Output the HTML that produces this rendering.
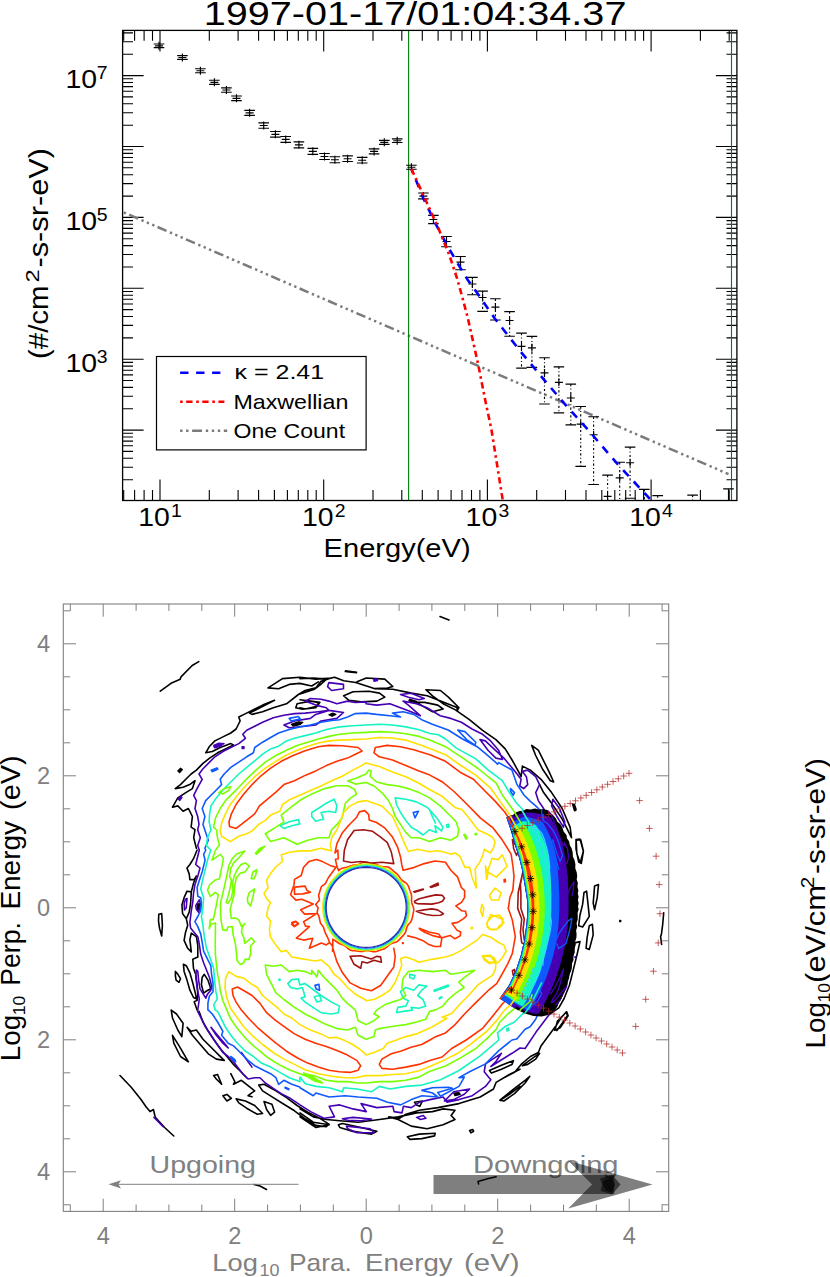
<!DOCTYPE html>
<html><head><meta charset="utf-8"><title>plot</title>
<style>
html,body{margin:0;padding:0;background:#fff;}
svg{display:block;font-family:"Liberation Sans", sans-serif;}
</style></head><body>
<svg width="830" height="1277" viewBox="0 0 830 1277">
<rect width="830" height="1277" fill="#fff"/>
<g id="top">
<path d="M123.7 500.5v-10.4M123.7 30.4v10.4M134.6 500.5v-10.4M134.6 30.4v10.4M144.1 500.5v-10.4M144.1 30.4v10.4M152.5 500.5v-10.4M152.5 30.4v10.4M160 500.5v-21M160 30.4v21M209.3 500.5v-10.4M209.3 30.4v10.4M238.1 500.5v-10.4M238.1 30.4v10.4M258.6 500.5v-10.4M258.6 30.4v10.4M274.4 500.5v-10.4M274.4 30.4v10.4M287.4 500.5v-10.4M287.4 30.4v10.4M298.3 500.5v-10.4M298.3 30.4v10.4M307.8 500.5v-10.4M307.8 30.4v10.4M316.2 500.5v-10.4M316.2 30.4v10.4M323.7 500.5v-21M323.7 30.4v21M373 500.5v-10.4M373 30.4v10.4M401.8 500.5v-10.4M401.8 30.4v10.4M422.3 500.5v-10.4M422.3 30.4v10.4M438.1 500.5v-10.4M438.1 30.4v10.4M451.1 500.5v-10.4M451.1 30.4v10.4M462 500.5v-10.4M462 30.4v10.4M471.5 500.5v-10.4M471.5 30.4v10.4M479.9 500.5v-10.4M479.9 30.4v10.4M487.4 500.5v-21M487.4 30.4v21M536.7 500.5v-10.4M536.7 30.4v10.4M565.5 500.5v-10.4M565.5 30.4v10.4M586 500.5v-10.4M586 30.4v10.4M601.8 500.5v-10.4M601.8 30.4v10.4M614.8 500.5v-10.4M614.8 30.4v10.4M625.7 500.5v-10.4M625.7 30.4v10.4M635.2 500.5v-10.4M635.2 30.4v10.4M643.6 500.5v-10.4M643.6 30.4v10.4M651.1 500.5v-21M651.1 30.4v21M700.4 500.5v-10.4M700.4 30.4v10.4M729.2 500.5v-10.4M729.2 30.4v10.4M122.6 500.5h21M736.9 500.5h-21M122.6 479.7h10.4M736.9 479.7h-10.4M122.6 467.2h10.4M736.9 467.2h-10.4M122.6 458.3h10.4M736.9 458.3h-10.4M122.6 451.4h10.4M736.9 451.4h-10.4M122.6 445.8h10.4M736.9 445.8h-10.4M122.6 441.1h10.4M736.9 441.1h-10.4M122.6 437h10.4M736.9 437h-10.4M122.6 433.3h10.4M736.9 433.3h-10.4M122.6 430.1h21M736.9 430.1h-21M122.6 408.8h10.4M736.9 408.8h-10.4M122.6 396.3h10.4M736.9 396.3h-10.4M122.6 387.4h10.4M736.9 387.4h-10.4M122.6 380.5h10.4M736.9 380.5h-10.4M122.6 374.9h10.4M736.9 374.9h-10.4M122.6 370.2h10.4M736.9 370.2h-10.4M122.6 366.1h10.4M736.9 366.1h-10.4M122.6 362.4h10.4M736.9 362.4h-10.4M122.6 359.2h21M736.9 359.2h-21M122.6 337.9h10.4M736.9 337.9h-10.4M122.6 325.4h10.4M736.9 325.4h-10.4M122.6 316.5h10.4M736.9 316.5h-10.4M122.6 309.6h10.4M736.9 309.6h-10.4M122.6 304h10.4M736.9 304h-10.4M122.6 299.3h10.4M736.9 299.3h-10.4M122.6 295.2h10.4M736.9 295.2h-10.4M122.6 291.5h10.4M736.9 291.5h-10.4M122.6 288.3h21M736.9 288.3h-21M122.6 267h10.4M736.9 267h-10.4M122.6 254.5h10.4M736.9 254.5h-10.4M122.6 245.6h10.4M736.9 245.6h-10.4M122.6 238.7h10.4M736.9 238.7h-10.4M122.6 233.1h10.4M736.9 233.1h-10.4M122.6 228.4h10.4M736.9 228.4h-10.4M122.6 224.3h10.4M736.9 224.3h-10.4M122.6 220.6h10.4M736.9 220.6h-10.4M122.6 217.4h21M736.9 217.4h-21M122.6 196.1h10.4M736.9 196.1h-10.4M122.6 183.6h10.4M736.9 183.6h-10.4M122.6 174.7h10.4M736.9 174.7h-10.4M122.6 167.8h10.4M736.9 167.8h-10.4M122.6 162.2h10.4M736.9 162.2h-10.4M122.6 157.5h10.4M736.9 157.5h-10.4M122.6 153.4h10.4M736.9 153.4h-10.4M122.6 149.7h10.4M736.9 149.7h-10.4M122.6 146.5h21M736.9 146.5h-21M122.6 125.2h10.4M736.9 125.2h-10.4M122.6 112.7h10.4M736.9 112.7h-10.4M122.6 103.8h10.4M736.9 103.8h-10.4M122.6 96.9h10.4M736.9 96.9h-10.4M122.6 91.3h10.4M736.9 91.3h-10.4M122.6 86.6h10.4M736.9 86.6h-10.4M122.6 82.5h10.4M736.9 82.5h-10.4M122.6 78.8h10.4M736.9 78.8h-10.4M122.6 75.6h21M736.9 75.6h-21M122.6 54.3h10.4M736.9 54.3h-10.4M122.6 41.8h10.4M736.9 41.8h-10.4M122.6 32.9h10.4M736.9 32.9h-10.4" stroke="#000" stroke-width="1.1" fill="none"/>
<path d="M123.8 212.4L728.5 474.1" stroke="#7b7b7b" stroke-width="2.5" fill="none" stroke-dasharray="9.7 3.7 2.35 3.5 2.35 3.5 2.35 3.5" stroke-dashoffset="25.1"/>
<path d="M408.6 30.4V500.5M731.5 30.4V500.5" stroke="#008000" stroke-width="1.1" fill="none"/>
<path d="M153.7 44h10.6M153.7 47.6h10.6M155 45.8h8.0M159 41.8v8.0M177.1 55.6h10.6M177.1 59.4h10.6M178.4 57.5h8.0M182.4 53.5v8.0M195.1 68.7h10.6M195.1 72.7h10.6M196.4 70.7h8.0M200.4 66.7v8.0M209.1 80.2h10.6M209.1 84.4h10.6M210.4 82.3h8.0M214.4 78.3v8.0M221.1 87.8h10.6M221.1 92.2h10.6M222.4 90h8.0M226.4 86v8.0M231.2 96h10.6M231.2 100.6h10.6M232.5 98.3h8.0M236.5 94.3v8.0M244.3 110.3h10.6M244.3 115.3h10.6M245.6 112.8h8.0M249.6 108.8v8.0M258.4 122.8h10.6M258.4 128.2h10.6M259.7 125.5h8.0M263.7 121.5v8.0M270.1 131.5h10.6M270.1 137.1h10.6M271.4 134.3h8.0M275.4 130.3v8.0M280.4 136.5h10.6M280.4 142.3h10.6M281.7 139.4h8.0M285.7 135.4v8.0M293.6 141.8h10.6M293.6 147.8h10.6M294.9 144.8h8.0M298.9 140.8v8.0M307.5 148.3h10.6M307.5 154.3h10.6M308.8 151.3h8.0M312.8 147.3v8.0M319.2 153.5h10.6M319.2 159.5h10.6M320.5 156.5h8.0M324.5 152.5v8.0M329.6 156.7h10.6M329.6 162.7h10.6M330.9 159.7h8.0M334.9 155.7v8.0M342.3 155.9h10.6M342.3 161.5h10.6M343.6 158.7h8.0M347.6 154.7v8.0M356.9 157.4h10.6M356.9 163h10.6M358.2 160.2h8.0M362.2 156.2v8.0M368.8 148.9h10.6M368.8 153.9h10.6M370.1 151.4h8.0M374.1 147.4v8.0M379 140.3h10.6M379 144.3h10.6M380.3 142.3h8.0M384.3 138.3v8.0M391.9 138.9h10.6M391.9 142.5h10.6M393.2 140.7h8.0M397.2 136.7v8.0M406.1 165.2h10.6M406.1 169.2h10.6M407.4 167.2h8.0M411.4 163.2v8.0M411.4 165.2V169.2M418.1 193h10.6M418.1 198.8h10.6M419.4 196.1h8.0M423.4 192.1v8.0M423.4 193V198.8M428.1 215.3h10.6M428.1 223.6h10.6M429.4 219.5h8.0M433.4 215.5v8.0M433.4 215.3V223.6M441.2 236.5h10.6M441.2 246.7h10.6M442.5 241.5h8.0M446.5 237.5v8.0M446.5 236.5V246.7M455.2 256.5h10.6M455.2 269.7h10.6M456.5 262.1h8.0M460.5 258.1v8.0M467.1 277.3h10.6M467.1 294.7h10.6M468.4 284h8.0M472.4 280v8.0M477.3 291.1h10.6M477.3 311.4h10.6M478.6 297.5h8.0M482.6 293.5v8.0M490.1 298.7h10.6M490.1 320h10.6M491.4 307.1h8.0M495.4 303.1v8.0M504.3 311.6h10.6M504.3 336.2h10.6M505.6 320.5h8.0M509.6 316.5v8.0M516.2 333.1h10.6M516.2 368.1h10.6M517.5 346.3h8.0M521.5 342.3v8.0M526.6 336.4h10.6M526.6 367.3h10.6M527.9 347.8h8.0M531.9 343.8v8.0M539.2 357.7h10.6M539.2 404h10.6M540.5 372.9h8.0M544.5 368.9v8.0M553.6 366.8h10.6M553.6 412.8h10.6M554.9 382.3h8.0M558.9 378.3v8.0M565.5 384.1h10.6M565.5 424.9h10.6M566.8 398h8.0M570.8 394v8.0M575.4 406.5h10.6M575.4 466.3h10.6M576.7 424.1h8.0M580.7 420.1v8.0M588.3 416.7h10.6M588.3 484.5h10.6M589.6 434.7h8.0M593.6 430.7v8.0M602.3 475.1h10.6M603.6 496.4h8.0M607.6 492.4v8.0M614.4 462.2h10.6M615.7 477.9h8.0M619.7 473.9v8.0M624.8 447.1h10.6M624.8 498.2h10.6M626.1 462.7h8.0M630.1 458.7v8.0M639 489.3h10.6M652.4 495.6h10.6M687.3 495.1h10.6M723.2 488.8h10.6M728.5 488.8V500.5" stroke="#000" stroke-width="1.15" fill="none"/>
<path d="M460.5 256.5V269.7M472.4 277.3V294.7M482.6 291.1V311.4M495.4 298.7V320M509.6 311.6V336.2M521.5 333.1V368.1M531.9 336.4V367.3M544.5 357.7V404M558.9 366.8V412.8M570.8 384.1V424.9M580.7 406.5V466.3M593.6 416.7V484.5M607.6 475.1V500.5M619.7 462.2V500.5M630.1 447.1V498.2M644.3 489.3V500.5M657.7 495.6V500.5M692.6 495.1V500.5" stroke="#000" stroke-width="1.15" fill="none" stroke-dasharray="2.2 2.3 1 2.3"/>
<path d="M411.4 169L423.3 198.1L435.4 223.4L446.8 244.9L459.5 266.4L467.8 280L477.2 293L494.4 318L521 352.1L546.3 382.5L567 406.5L590 432L615.9 462.2L651.3 500.5" stroke="#0000ff" stroke-width="2.6" fill="none" stroke-dasharray="8.2 7.4" stroke-dashoffset="4"/>
<path d="M411.4 169L425.3 199.3L438 227.2L449.3 255L456.9 277.8L462 296L467.8 318L478 363.5L485.5 401.5L491.4 429.3L502.8 500.5" stroke="#ff0000" stroke-width="2.6" fill="none" stroke-dasharray="6.3 3.7 2.5 3.6"/>
<rect x="122.6" y="30.4" width="614.3" height="470.1" fill="none" stroke="#000" stroke-width="1.3"/>
<rect x="156.5" y="356.5" width="209.6" height="93.4" fill="#fff" stroke="#000" stroke-width="1.2"/>
<path d="M180.1 372.8H220.4" stroke="#0000ff" stroke-width="2.6" stroke-dasharray="8.4 7.6"/>
<path d="M180.1 401.8H224.4" stroke="#ff0000" stroke-width="2.6" stroke-dasharray="2.6 3.5 6.3 3.7"/>
<path d="M180.1 430.8H227.2" stroke="#7b7b7b" stroke-width="2.6" stroke-dasharray="9.9 3.8 2.4 3.6 2.4 3.6 2.4 3.6" stroke-dashoffset="19.7"/>
<text x="234.6" y="378.5" font-size="20.3" fill="#000" textLength="89.5" lengthAdjust="spacingAndGlyphs">&#954; = 2.41</text>
<text x="233.4" y="408.8" font-size="20.3" fill="#000" textLength="115" lengthAdjust="spacingAndGlyphs">Maxwellian</text>
<text x="233.6" y="437.5" font-size="20.3" fill="#000" textLength="111.5" lengthAdjust="spacingAndGlyphs">One Count</text>
<text x="203.8" y="24.6" font-size="33.8" fill="#000" textLength="422.6" lengthAdjust="spacingAndGlyphs">1997-01-17/01:04:34.37</text>
<text x="65.4" y="88.3" font-size="25.9" fill="#000" textLength="31.6" lengthAdjust="spacingAndGlyphs">10</text>
<text x="96.8" y="79.1" font-size="17.6" fill="#000" textLength="10.8" lengthAdjust="spacingAndGlyphs">7</text>
<text x="65.4" y="230.1" font-size="25.9" fill="#000" textLength="31.6" lengthAdjust="spacingAndGlyphs">10</text>
<text x="96.8" y="220.9" font-size="17.6" fill="#000" textLength="10.8" lengthAdjust="spacingAndGlyphs">5</text>
<text x="65.4" y="371.9" font-size="25.9" fill="#000" textLength="31.6" lengthAdjust="spacingAndGlyphs">10</text>
<text x="96.8" y="362.7" font-size="17.6" fill="#000" textLength="10.8" lengthAdjust="spacingAndGlyphs">3</text>
<text x="138.2" y="526.4" font-size="25.9" fill="#000" textLength="31.6" lengthAdjust="spacingAndGlyphs">10</text>
<text x="171" y="517" font-size="17.6" fill="#000" textLength="10.8" lengthAdjust="spacingAndGlyphs">1</text>
<text x="301.9" y="526.4" font-size="25.9" fill="#000" textLength="31.6" lengthAdjust="spacingAndGlyphs">10</text>
<text x="334.7" y="517" font-size="17.6" fill="#000" textLength="10.8" lengthAdjust="spacingAndGlyphs">2</text>
<text x="465.6" y="526.4" font-size="25.9" fill="#000" textLength="31.6" lengthAdjust="spacingAndGlyphs">10</text>
<text x="498.4" y="517" font-size="17.6" fill="#000" textLength="10.8" lengthAdjust="spacingAndGlyphs">3</text>
<text x="629.3" y="526.4" font-size="25.9" fill="#000" textLength="31.6" lengthAdjust="spacingAndGlyphs">10</text>
<text x="662.1" y="517" font-size="17.6" fill="#000" textLength="10.8" lengthAdjust="spacingAndGlyphs">4</text>
<text x="323.6" y="557.3" font-size="25.9" fill="#000" textLength="147" lengthAdjust="spacingAndGlyphs">Energy(eV)</text>
<text x="47.5" y="359" font-size="26.8" fill="#000" textLength="73.5" lengthAdjust="spacingAndGlyphs" transform="rotate(-90 47.5 359)">(#/cm</text>
<text x="39" y="282.6" font-size="18.5" fill="#000" textLength="13.2" lengthAdjust="spacingAndGlyphs" transform="rotate(-90 39 282.6)">2</text>
<text x="47.5" y="267.5" font-size="26.8" fill="#000" textLength="119.5" lengthAdjust="spacingAndGlyphs" transform="rotate(-90 47.5 267.5)">-s-sr-eV)</text>
</g>
<g id="bot">
<clipPath id="cp"><rect x="63.3" y="604.0" width="605.4" height="607.4"/></clipPath>
<g clip-path="url(#cp)">
<path d="M268.0 687.9L282.5 678.6L299.8 677.3L315.7 679.1L331.6 678.1L321.0 681.3L315.7 687.9L305.1 690.5L298.4 694.5L286.5 703.8L273.3 707.8L262.6 711.7L252.0 714.4L249.4 713.1L260.0 707.8L274.6 700.3L262.6 705.1L252.0 710.4L244.1 714.4L238.8 717.0L240.1 721.0L236.1 729.0L230.8 733.0L222.9 736.9L214.9 740.9L209.6 746.2L205.7 752.8L212.3 751.5L220.2 747.5L230.8 743.6L233.5 744.9L225.5 748.9L217.6 752.8L209.6 758.1L203.0 763.4L196.4 770.1L191.1 774.0L185.8 779.3L180.5 784.6L175.2 788.6L183.1 787.3L189.7 784.6L195.0 780.7L192.4 788.6L185.8 792.6L177.8 797.9L172.5 807.2L177.8 805.9L183.1 811.2L188.4 808.5L192.4 816.5L191.1 827.1L195.0 829.7L193.7 837.7L196.4 848.3M268.0 687.9L278.6 688.7L289.2 684.4L299.8 683.4L311.7 686.0L318.3 681.8M297.1 703.8L310.4 701.1L318.3 702.5L315.7 707.8L302.4 709.1L295.8 707.8ZM160.3 691.2L171.0 683.3L180.2 679.3L181.0 676.9L192.2 665.5L198.8 661.6M197.1 850.0L193.5 858.7L189.9 864.5L187.0 868.1L189.2 873.9L189.9 879.6L194.2 879.6L196.4 876.0L193.5 883.3L191.3 891.9L187.0 891.2L184.1 897.7L181.9 904.9L182.6 913.6L186.3 918.7L189.2 912.2L190.6 903.5L191.3 891.9M186.3 918.7L187.7 925.2L185.5 932.4L184.1 940.4L187.7 948.3L191.3 951.9L189.9 939.6L191.3 933.1L196.4 936.7L197.8 945.4L197.8 957.0L192.8 959.2L193.5 968.5L195.7 974.3L197.1 984.5L197.8 994.6L197.1 1000.4L194.2 1001.8L197.1 1010.0M158.8 914.3L161.7 913.6L162.4 925.2L161.7 936.0L159.5 928.1L158.5 920.8ZM175.4 971.4L177.9 974.3L180.5 978.7L179.0 982.3L176.1 980.1L175.4 975.8ZM183.4 964.2L186.3 965.7L189.9 972.9L192.8 983.0L195.7 994.6L196.4 998.9L193.5 997.5L189.9 990.2L187.0 980.1L184.1 971.4ZM202.2 977.2L204.3 974.3L207.9 980.1L210.8 988.8L206.5 991.0L203.6 993.1L201.4 984.5ZM300.0 678.6L313.3 678.0L326.5 679.1L334.5 677.2L343.7 680.7L355.7 682.5L374.2 688.6L392.8 689.2L411.3 693.1L427.2 695.8L440.5 701.1L456.4 707.2L458.0 709.8M357.0 681.7L366.3 678.0L384.8 679.1L392.8 686.5L387.5 688.1L374.2 688.6M343.7 695.8L353.0 691.8L368.9 691.3L379.5 693.1L384.8 697.1L376.9 701.1L361.0 701.9L349.0 700.3ZM425.9 689.7L440.5 690.5L448.4 697.1L459.0 707.7L456.4 710.4L443.1 703.7L432.5 695.8ZM424.6 702.4L437.8 705.1L443.1 709.0L432.5 711.7L423.2 706.4L416.6 702.4ZM326.5 679.1L319.9 685.2L314.6 689.2L300.0 693.9M300.0 699.8L310.6 701.1L319.9 702.4L317.2 706.4L305.3 709.0L300.0 707.7M456.1 710.4L469.4 719.7L482.6 730.3L495.9 739.6L505.2 748.9L511.8 759.5L518.4 771.4L521.1 776.7L522.4 766.1L530.4 770.1L541.0 779.3L551.6 792.6L562.2 808.5L570.1 827.1L571.5 837.7L567.5 829.7L562.2 819.1L551.6 803.2L543.6 792.6L539.6 784.6M531.7 745.4L538.3 750.2L548.9 771.4L553.7 782.0L550.3 780.7L542.3 768.7L535.7 755.5ZM576.2 840.3L580.7 839.8L583.4 850.9L580.2 862.9L576.8 853.6ZM440.0 616.5L449.0 620.0M576.0 839.5L580.0 839.0L583.4 851.4L581.3 863.4L578.7 862.0L576.0 848.8ZM594.6 885.9L598.5 884.6L597.2 897.8L594.6 909.7L593.2 903.1ZM584.0 892.5L586.6 891.2L587.9 903.1L589.3 916.4L582.6 927.0L578.7 925.7L580.0 915.0L582.6 904.4ZM589.3 925.7L592.4 924.3L593.2 934.9L589.3 949.5L586.1 948.2L587.1 937.6ZM574.7 942.9L580.0 941.6L577.3 953.5L573.4 969.4L569.4 985.3L564.1 998.5L558.8 1007.8L549.5 1014.4L557.5 1003.8L564.1 990.6L568.6 974.7L572.0 958.8ZM557.5 1021.1L566.7 1011.8L568.1 1015.8L560.1 1027.7L554.8 1030.3ZM300.0 1108.9L313.3 1116.9L326.5 1119.5L339.8 1120.8L358.3 1122.2L379.5 1119.5L398.1 1116.9L416.6 1112.9L432.5 1111.6L443.1 1108.9L455.0 1110.2L451.1 1115.5L455.0 1119.5L443.1 1124.8L427.2 1128.8L411.3 1126.1L398.1 1119.5L388.8 1116.9L399.4 1118.2L406.0 1114.2L419.3 1110.2L437.8 1107.6L459.0 1103.6L480.2 1097.0L493.5 1089.0L496.1 1082.4L509.4 1074.5L520.0 1069.2M300.0 1112.9L313.3 1122.2L329.2 1124.8L315.9 1127.5L300.0 1116.9M338.4 1124.8L342.4 1123.5L361.0 1127.5L376.9 1131.4L371.6 1134.1L353.0 1131.4L339.8 1127.5ZM407.3 1136.7L419.3 1134.1L435.2 1133.3L434.6 1135.9L421.9 1138.6L410.0 1139.4ZM414.5 1102.3L422.4 1101.0L419.8 1106.3L416.6 1104.9ZM489.5 1070.5L501.4 1065.2L513.4 1060.7L512.0 1064.4L501.4 1069.2L491.4 1073.1ZM500.1 1100.4L509.4 1094.3L520.0 1086.4M469.6 1130.6L472.8 1129.6L473.6 1131.4L471.0 1132.8ZM503.9 1077.7L514.5 1072.4L521.1 1064.4L530.4 1056.5L538.3 1052.5L541.0 1045.9L548.9 1035.3L556.9 1024.6M499.9 1100.2L514.5 1088.3L525.1 1080.3L529.8 1076.3L525.1 1083.0L514.5 1093.6L503.9 1101.0ZM522.4 1065.7L533.0 1057.8L539.6 1053.3L535.7 1059.1L527.7 1064.4ZM554.2 1028.6L560.9 1018.0L566.2 1011.9L567.5 1015.4L562.2 1023.3L556.9 1030.5ZM199.0 1011.4L203.0 1022.0L208.3 1031.3L213.6 1039.2L220.2 1048.5L226.9 1056.5L233.5 1064.4L240.1 1071.0L246.7 1077.7M171.2 1010.1L176.5 1014.0L183.1 1023.3L181.8 1036.6L177.8 1030.0L172.5 1018.0ZM172.5 1035.3L179.1 1045.9L188.4 1061.8L180.5 1056.5L173.8 1043.2ZM187.1 1027.3L191.1 1031.3L196.4 1030.0L203.0 1039.2L211.0 1047.2L218.9 1055.1L224.2 1060.4L216.3 1059.1L208.3 1053.8L200.3 1044.5L192.4 1035.3ZM213.6 1075.6L217.6 1074.5L221.6 1084.3L216.3 1079.0ZM230.8 1073.7L234.8 1081.6L233.5 1084.3L241.4 1080.3L248.1 1085.6L254.7 1090.9L250.7 1093.6L248.1 1095.7L252.0 1096.8M222.9 1095.7L226.9 1094.4L231.4 1098.3L226.9 1101.0ZM236.1 1098.9L245.4 1101.0L254.7 1105.5L262.6 1113.5L257.3 1114.3L246.7 1108.2L238.8 1102.9ZM264.0 1101.5L271.9 1104.2L274.6 1112.1L270.6 1115.3L266.6 1109.5ZM258.7 1085.1L264.0 1084.3L275.9 1090.9L286.5 1097.6L297.1 1105.5L307.7 1112.1L318.3 1117.4L328.9 1124.1L326.3 1126.7L315.7 1125.4L305.1 1118.8L294.5 1110.8L283.9 1104.2L273.3 1097.6L262.6 1090.9ZM120.0 1075.5L131.0 1087.0L141.0 1099.5L146.0 1106.8L150.0 1111.6L153.4 1109.5L155.3 1117.4L164.6 1127.5L173.8 1136.0M254.0 1184.5L260.0 1186.0L266.5 1189.5M478.6 1183.9L478.0 1181.4L487.4 1178.8L496.1 1176.7M663.7 912.9L662.7 924.3L661.4 934.4L660.6 936.5L661.6 944.5" fill="none" stroke="#000000" stroke-width="1.6" stroke-linejoin="round" stroke-linecap="round"/>
<path d="M345.4 670.7L356.8 672.0L356.5 673.0L345.1 671.7ZM177.8 770.9L180.5 768.2L182.3 769.5L179.7 772.7ZM291.3 724.2L298.4 721.8L302.9 722.3L299.8 724.7L293.1 726.1ZM328.9 714.7L332.9 713.1L335.8 714.4L332.1 716.3ZM197.1 904.2L199.3 903.5L199.6 907.8L197.8 910.0ZM409.5 699.2L416.6 701.3L416.1 702.9L408.9 700.8ZM572.8 804.5L574.4 804.0L576.2 809.3L574.9 810.4ZM619.7 920.3L620.8 920.3L620.8 921.7L619.7 921.7ZM572.3 803.7L573.9 804.5L576.0 810.4L574.4 810.9ZM453.7 1093.0L459.0 1092.5L460.3 1094.3L455.0 1095.7Z" fill="#000000" stroke="#000000" stroke-width="1.2" stroke-linejoin="round"/>
<path d="M197.7 845.6L200.3 837.7L197.7 829.7L199.0 824.4L197.7 816.5L195.0 808.5L196.4 800.6L193.7 795.3L197.7 787.3L202.2 779.3L199.0 774.0L203.0 768.7L209.6 762.1L214.9 756.8L222.9 751.5L230.8 747.5L238.8 743.6L245.4 738.3L242.8 734.3L246.7 730.3L254.7 726.3L262.6 722.3L273.3 717.8L283.9 715.2L294.5 713.6L305.1 713.1L318.3 711.7L328.9 710.4L326.3 707.8L315.7 705.1L305.1 701.1L310.4 698.5L321.0 699.3L328.9 701.1L336.9 703.8L347.5 701.1L355.4 702.5L366.0 701.9L366.0 703.8L376.6 705.1L389.9 703.8L400.5 707.8L411.1 711.7L420.3 715.7L408.4 705.1L403.1 701.1L416.4 703.8L427.0 707.8L440.2 715.7L450.8 718.4L461.4 722.3L472.0 729.0L482.6 734.3L490.6 740.9L498.6 750.2L502.5 759.5L495.9 758.1L488.0 750.2L480.0 739.6L485.3 740.9L503.9 758.1L510.5 766.1L517.1 774.0L521.1 779.3L519.8 786.0L523.7 788.6L527.7 784.6L526.4 776.7L522.4 771.4L527.7 770.1L535.7 776.7L539.6 784.6L535.7 792.6L538.3 800.6L543.6 808.5L549.1 820.2L553.8 832.2L557.9 844.4L561.4 856.7L564.4 869.2L566.8 881.8L568.8 894.5L570.2 907.4L571.1 920.5L571.5 933.7L571.3 947.0L570.4 960.4L568.7 974.0L566.2 987.5L562.2 995.5L556.9 1003.4L551.6 1011.4L543.6 1022.0L535.7 1032.6L525.1 1048.5L520.0 1048.0L512.0 1053.3L490.8 1066.5L496.1 1061.2L501.4 1053.3L485.5 1063.9L484.2 1071.8L490.8 1079.8L485.5 1086.4L472.3 1095.7L459.0 1099.6L447.1 1102.3L443.1 1097.0L429.9 1099.6L419.3 1102.3L411.3 1107.6L403.4 1106.3L402.0 1112.9L394.1 1111.6L392.8 1106.3L376.9 1107.6L361.0 1103.6L366.3 1111.6L353.0 1108.9L339.8 1104.9L329.2 1106.3L334.5 1116.9L323.9 1118.2L310.6 1111.6L300.0 1104.9L297.1 1102.9L289.2 1097.6L281.2 1093.6L273.3 1088.3L265.3 1083.0L260.0 1077.7L254.7 1077.7L248.1 1079.0L242.8 1073.7L237.5 1067.1L233.5 1061.8L228.2 1056.5L222.9 1052.5L216.3 1043.2L211.0 1035.3L205.7 1027.3L201.7 1019.3L197.7 1011.4L197.8 1010.0L199.3 998.9L197.1 987.3L195.7 975.8L196.4 970.0L197.8 971.4L198.6 980.1L200.0 988.8L203.6 994.6L205.8 998.2L207.2 994.6L210.8 990.2L211.6 985.9L209.4 977.2L206.5 970.0L203.6 962.8L200.7 954.1L199.3 944.0L197.8 936.7L194.2 932.4L190.6 928.1L189.9 922.3L191.3 910.7L192.8 902.0L193.5 893.4L194.9 884.7L197.8 876.0L200.0 868.1L195.7 864.5L199.3 850.0ZM315.7 714.4L328.9 710.4L343.5 712.5L336.9 718.4L321.0 721.0L315.7 725.0L305.1 726.3L289.2 727.7L283.9 725.0L294.5 721.0L310.4 718.4ZM328.9 682.6L343.5 684.4L343.5 688.7L331.6 690.5L327.6 686.6ZM400.5 694.5L411.1 693.2L424.3 698.5L419.0 699.8L408.4 697.2ZM552.9 799.2L559.5 808.5L564.8 821.8L563.5 827.1L556.9 816.5L551.6 805.9ZM211.0 1027.3L217.6 1035.3L225.5 1044.5L228.2 1048.0L222.9 1043.2L216.3 1035.3ZM241.4 1052.5L248.1 1061.8L252.0 1067.1M154.0 1117.4L163.2 1126.7M342.4 1118.7L353.0 1117.4L371.6 1119.0L361.0 1120.8L347.7 1120.3ZM346.4 1126.1L370.2 1128.8L374.2 1132.8L357.0 1132.8L347.7 1128.8ZM416.6 1117.4L423.2 1115.5L425.9 1118.2L420.6 1119.5ZM444.4 1101.0L453.7 1091.7L469.6 1089.0L464.3 1094.3L453.7 1099.6ZM185.5 899.2L187.0 898.4L186.3 907.8L184.5 910.0L184.1 903.5ZM195.7 905.7L199.3 899.9L200.7 904.9L198.6 912.2L196.4 909.3Z" fill="none" stroke="#4600b4" stroke-width="1.6" stroke-linejoin="round" stroke-linecap="round"/>
<path d="M213.6 745.4L218.9 743.0L224.2 743.6L219.7 746.7L214.4 747.8ZM242.0 746.7L244.1 746.7L244.1 748.6L242.0 748.6ZM178.3 799.2L180.5 796.0L182.1 797.4L179.7 800.6ZM373.4 679.1L377.1 678.6L377.7 680.7L374.0 681.3ZM574.9 956.5L576.0 956.5L576.0 957.6L574.9 957.6Z" fill="#4600b4" stroke="#4600b4" stroke-width="1.2" stroke-linejoin="round"/>
<path d="M204.9 848.3L208.3 840.3L205.7 832.4L203.0 824.4L204.9 816.5L202.2 808.5L205.7 800.6L211.0 795.3L216.3 790.0L221.6 784.6L220.2 779.3L224.2 774.0L230.8 767.4L238.8 762.1L246.7 756.8L253.4 752.8L254.7 747.5L262.6 742.2L270.6 737.5L278.6 733.0L289.2 729.5L299.8 726.9L310.4 725.0L321.0 722.3L331.6 720.5L339.5 719.7L347.5 717.0L355.4 713.6L366.0 713.1L366.0 713.1L376.6 714.4L389.9 715.7L400.5 717.0L392.5 713.1L403.1 711.7L413.7 714.4L421.7 719.7L432.3 724.2L448.2 730.0L462.5 739.0L477.1 746.7L485.3 753.4L495.1 761.8L497.5 764.2L498.6 762.6L511.8 769.8L516.8 784.1L524.0 795.0L530.1 801.1L535.7 805.9L539.6 809.8L545.2 824.4L549.6 839.3L553.0 854.2L555.5 869.2L557.1 884.3L558.0 899.3L558.1 914.3L557.5 929.4L556.1 944.4L554.0 959.5L550.9 974.6L546.9 989.7L541.9 1004.6L535.7 1019.3L530.1 1026.8L525.1 1029.2L516.8 1039.0L512.0 1040.0L498.8 1050.6L485.5 1063.9L469.6 1071.8L459.0 1077.6L464.3 1077.1L459.0 1086.4L440.5 1096.2L437.8 1092.5L452.4 1088.2L448.4 1087.2L432.5 1087.7L421.9 1090.4L432.5 1093.0L437.8 1097.0L421.9 1095.7L411.3 1099.6L400.7 1104.9L387.5 1102.3L376.9 1098.3L358.3 1097.0L345.1 1095.7L329.2 1097.0L315.9 1093.0L313.3 1095.7L306.6 1091.7L300.0 1087.7L299.8 1087.0L291.8 1084.3L283.9 1080.3L278.6 1084.3L275.9 1077.7L270.6 1073.7L262.6 1069.7L254.7 1065.7L248.1 1060.4L241.4 1053.8L237.5 1049.8L233.5 1045.9L228.2 1043.2L221.6 1035.3L222.9 1031.3L217.6 1022.0L212.3 1014.0L208.3 1010.1L207.9 1010.0L207.9 1003.2L209.4 996.0L213.0 991.7L213.0 983.0L211.6 974.3L210.8 965.7L207.9 959.9L203.6 951.2L202.2 942.5L200.7 933.9L197.8 926.6L194.9 921.6L197.8 916.5L200.7 910.7L201.4 903.5L200.7 897.7L197.8 896.3L197.1 887.6L199.3 880.4L202.2 871.7L205.1 860.1L203.6 854.3L205.8 850.0ZM413.2 812.5L418.5 811.2L415.0 817.8ZM314.9 985.4L318.9 984.4L319.6 990.2L316.2 988.9ZM457.7 730.0L464.9 731.6L475.8 742.2L475.2 745.1L466.7 739.6ZM510.5 788.6L514.5 792.6L513.1 795.3L510.5 791.3ZM289.2 718.4L298.4 716.5L300.3 718.9L291.3 721.0ZM230.8 1056.5L234.8 1059.6L235.6 1061.8L231.9 1059.1Z" fill="none" stroke="#0f5aff" stroke-width="1.6" stroke-linejoin="round" stroke-linecap="round"/>
<path d="M211.0 770.1L217.0 767.7L218.1 769.3L212.3 771.9ZM285.2 1087.0L289.2 1088.8L288.6 1089.9L284.7 1088.0Z" fill="#0f5aff" stroke="#0f5aff" stroke-width="1.2" stroke-linejoin="round"/>
<path d="M206.4 845.6L207.5 837.7L211.0 829.7L209.1 821.8L209.6 813.8L211.0 805.9L216.3 797.9L222.9 790.0L230.8 782.0L238.8 774.0L246.7 767.4L254.7 760.8L262.6 754.2L270.6 748.9L278.6 746.2L286.5 740.9L294.5 738.3L305.1 735.6L315.7 733.0L326.3 729.5L339.5 726.9L352.8 725.8L366.0 725.0L366.0 725.0L379.3 724.2L392.5 725.0L405.8 726.9L419.0 729.8L429.9 733.5L438.4 734.8L445.5 739.0L456.4 748.1L475.8 758.9L488.0 769.8L502.3 780.7L509.4 792.6L516.8 803.5L525.1 812.0L531.7 825.2L537.3 838.8L541.9 852.7L545.4 867.0L548.0 881.4L549.6 895.9L550.2 910.6L549.8 925.2L548.5 939.9L546.2 954.5L542.9 969.1L538.5 983.4L533.0 997.4L526.4 1011.1L521.6 1014.8L514.5 1022.0L504.7 1026.8L497.5 1032.9L498.8 1040.0L480.2 1055.9L459.0 1070.5L440.5 1079.8L421.9 1085.1L406.0 1086.4L390.1 1089.0L379.5 1086.4L371.6 1091.7L357.0 1089.0L343.7 1087.7L342.4 1091.7L329.2 1087.7L315.9 1086.4L305.3 1083.7L300.0 1077.1L299.8 1081.6L289.2 1077.7L279.9 1072.4L270.6 1067.1L261.3 1063.1L253.4 1056.5L245.4 1051.2L237.5 1043.2L230.8 1035.3L225.5 1027.3L221.6 1019.3L217.6 1011.4L215.2 1010.0L213.7 1004.7L217.3 998.9L215.9 991.7L214.5 980.1L213.7 968.5L210.8 959.9L206.5 948.3L204.3 936.7L202.9 925.2L201.4 916.5L202.9 907.8L203.6 897.7L200.7 889.0L202.9 878.9L205.8 867.3L207.9 858.7L210.8 850.0ZM311.7 812.5L318.3 808.5L326.3 803.2L334.2 799.2L336.9 805.9L335.6 812.5L328.9 811.2L321.0 812.5L323.6 819.1L315.7 821.2L311.7 816.5ZM279.9 825.7L289.2 821.8L298.4 819.6L299.8 823.9L291.8 825.7L283.9 828.4ZM395.2 797.9L405.8 799.2L416.4 801.9L427.0 807.2L429.6 809.8L437.6 819.1L442.9 827.1L441.6 831.0L434.9 825.7L436.3 832.4L429.6 829.7L423.0 835.0L417.7 831.0L411.1 827.1L405.8 820.4L400.5 812.5L396.5 804.5ZM429.6 809.8L432.3 816.5L435.5 823.1M446.6 824.9L448.7 824.4L449.0 827.1L446.9 827.3ZM400.5 991.5L405.8 987.5L413.7 990.2L419.0 984.9L427.0 986.2L421.7 990.2L417.7 995.5L423.0 999.5L425.7 1006.1L419.0 1008.2L411.1 1007.4L412.4 1010.1L403.1 1011.4L396.5 1012.7L397.8 1007.4L405.8 1006.1L408.4 1000.8L403.1 998.1ZM409.7 974.3L415.0 975.6L413.7 979.0L409.7 977.5ZM287.8 983.6L291.8 979.6L298.4 979.0L299.8 984.9L305.1 983.6L310.4 987.5L321.0 995.5L331.6 1002.1L339.5 1006.1L338.2 1012.7L331.6 1014.0L321.0 1012.7L313.0 1007.4L305.1 1002.1L301.1 998.1L305.1 996.8L302.4 987.5L297.1 988.9L290.5 987.5ZM314.3 996.8L319.6 995.5L321.5 1000.8L317.0 1002.1Z" fill="none" stroke="#14f5c0" stroke-width="1.6" stroke-linejoin="round" stroke-linecap="round"/>
<path d="M433.6 990.2L448.2 984.9L448.7 986.5L434.4 991.5ZM438.9 998.1L441.6 996.5L442.1 997.6L439.4 999.2ZM278.8 979.0L280.1 979.0L280.1 980.4L278.8 980.4ZM506.5 1028.6L508.6 1027.8L509.2 1030.5L507.0 1031.3Z" fill="#14f5c0" stroke="#14f5c0" stroke-width="1.2" stroke-linejoin="round"/>
<path d="M213.6 827.1L215.5 817.8L220.2 808.5L225.5 800.6L233.5 792.6L238.8 787.3L246.7 778.8L256.0 770.1L265.3 762.1L275.9 755.5L286.5 750.2L297.1 745.4L307.7 742.2L318.3 739.0L328.9 736.4L339.5 734.3L352.8 733.0L366.0 732.4L366.0 732.4L379.3 731.6L392.5 732.2L405.8 733.7L419.0 736.4L429.9 740.1L445.5 746.7L461.4 757.1L478.1 768.5L496.2 783.1L502.3 795.0L511.8 808.2L519.2 819.1L526.0 831.6L531.7 844.6L536.4 858.0L540.0 871.8L542.5 885.8L543.9 900.0L544.1 914.3L543.2 928.5L541.1 942.7L538.0 956.6L533.7 970.3L528.3 983.6L521.9 996.4L514.5 1008.7L508.4 1013.5L499.9 1022.0L496.2 1029.2L488.0 1037.6L475.8 1048.5L460.1 1058.1L445.5 1066.0L429.9 1071.3L419.0 1077.1L405.8 1080.3L392.5 1081.6L379.3 1081.6L366.0 1083.0L366.0 1083.0L358.1 1083.0L347.5 1081.6L336.9 1081.6L326.3 1080.3L315.7 1076.3L305.1 1073.7L313.0 1079.0L321.0 1081.6L310.4 1077.7L299.8 1073.7L289.2 1069.7L278.6 1064.4L268.0 1057.8L260.0 1051.2L252.0 1044.5L244.1 1036.6L237.5 1028.6L230.8 1019.3L226.9 1010.1L222.9 1000.8L220.2 990.2L218.9 979.6L217.7 974.9L216.6 966.2L215.4 954.8L215.2 943.5L215.4 932.1L215.4 923.0L210.9 924.2L209.2 928.7L210.3 919.6L213.2 919.6L214.3 915.1L216.6 903.8L218.3 894.7L215.4 892.4L210.3 896.4L207.5 890.1L209.8 884.5L215.4 879.9L219.4 878.8L221.7 867.4L223.4 858.4L220.5 854.4L217.7 856.1L212.0 860.1L215.4 850.4L219.4 844.8L218.3 841.3L217.1 835.7L216.6 830.0ZM356.5 794.2L354.6 789.4L347.7 785.7L336.3 785.7L324.7 788.6L313.0 793.4L301.6 799.2L290.5 807.7L281.2 815.1L283.9 821.8L275.9 827.1L265.3 833.7L270.6 841.6L283.9 837.7L297.1 844.3L307.7 840.3L318.3 837.7L328.9 837.7L331.6 829.7L338.2 823.1L342.2 817.8L343.5 811.2L345.4 803.2L350.1 798.4ZM347.7 780.9L356.7 778.0L366.0 774.0L368.7 770.1L371.3 770.9L370.0 776.2L376.6 782.0L387.2 784.6L397.8 786.0L408.4 788.6L419.0 792.6L429.6 797.9L440.2 805.9L448.2 813.8L456.1 821.8L458.8 829.7L457.5 836.3L450.8 840.3L440.2 837.7L429.6 841.6L419.0 837.7L411.1 837.7L405.8 832.4L400.5 824.4L395.2 816.5L392.5 808.5L388.5 800.6L381.9 792.6L374.0 786.0L366.0 782.5L355.4 784.1ZM408.4 971.6L419.0 970.3L432.3 971.6L445.5 970.3L450.8 974.3L458.8 973.0L474.7 970.3L466.7 975.6L458.8 982.2L464.1 987.5L456.1 992.8L448.2 999.5L442.9 1006.1L434.9 1010.1L429.6 1011.4L425.7 1019.3L416.4 1022.0L405.8 1024.6L395.2 1026.0L387.2 1027.3L379.3 1028.6L375.3 1030.0L374.0 1036.6L366.0 1039.2M408.4 971.6L403.1 978.3L401.8 987.5L405.8 995.5L400.5 999.5L392.5 1002.1L384.6 1004.8L376.6 1010.1L374.0 1014.0L379.3 1016.7L374.0 1020.7L366.0 1024.6M366.0 1024.6L358.1 1020.7L355.4 1010.1L347.5 1003.4L342.2 998.1L336.9 990.2L331.6 984.9L323.6 976.9L318.3 970.3L317.0 976.9L311.7 970.3L311.7 974.3L305.1 971.6L297.1 970.3L289.2 971.6L281.2 965.0L273.3 966.3L265.3 965.0L266.6 974.3L271.9 984.9L275.9 992.8L283.9 999.5L294.5 1007.4L305.1 1014.0L315.7 1019.3L326.3 1024.6L336.9 1028.6L347.5 1030.0L355.4 1027.3L358.1 1035.3L366.0 1039.2M303.7 1072.9L313.0 1077.1L322.3 1083.0L314.3 1080.9L306.4 1076.1ZM218.9 792.6L224.2 788.6L230.8 786.8L228.7 790.5L222.9 793.9ZM244.9 851.0L237.0 853.8L232.4 858.4L229.0 865.2L227.3 873.1L225.1 883.3L222.8 893.5L220.5 902.6L220.5 911.7L221.1 920.8L222.8 929.9L226.8 930.4L227.9 927.0L232.4 926.5L233.0 934.4L235.3 943.5L236.4 952.6L237.0 960.5L240.4 964.5L243.8 962.8L244.9 959.4L248.9 959.4L250.6 953.7L250.6 945.7L254.6 941.8L251.2 937.8L244.9 943.5L243.8 937.8L241.5 932.1L242.1 927.6L244.9 923.6L241.5 926.5L238.7 919.6L235.3 917.9L231.3 918.5L230.2 909.4L231.9 902.6L234.1 894.7L234.7 885.6L236.4 877.7L240.4 873.1L244.9 872.0L247.8 868.0L249.5 866.3L245.5 862.9L241.0 864.6L237.0 869.7L234.1 876.5L232.4 883.3L233.0 890.1L231.3 898.1L227.9 903.2L226.2 902.6L228.5 894.7L230.7 885.6L231.3 879.9L229.6 876.5L230.7 868.6L233.6 862.9L239.3 857.2ZM251.2 878.8L252.9 872.0L256.8 869.7L255.7 875.4L254.0 878.8ZM247.4 898.1L249.5 892.4L254.6 889.0L252.9 897.0L250.6 906.0L247.8 902.6Z" fill="none" stroke="#78ff00" stroke-width="1.6" stroke-linejoin="round" stroke-linecap="round"/>
<path d="M463.6 834.5L465.2 834.0L467.3 838.7L465.9 839.3ZM475.5 833.7L476.6 833.7L476.6 834.8L475.5 834.8ZM255.1 853.3L259.7 848.2L265.4 845.9L262.0 849.3L256.8 854.4ZM475.0 833.4L476.6 833.4L476.6 835.0L475.0 835.0Z" fill="#78ff00" stroke="#78ff00" stroke-width="1.2" stroke-linejoin="round"/>
<path d="M366.0 739.0L352.8 739.6L339.5 740.1L328.9 740.9L318.3 743.0L307.7 746.2L297.1 750.2L286.5 755.0L275.9 761.3L265.3 768.2L254.7 776.7L245.4 786.0L237.5 795.3L230.3 804.5L225.5 813.8L221.6 823.1L220.2 831.0L221.6 836.3L230.3 841.6L238.8 836.3L246.7 833.7L252.0 831.0L258.7 824.4L265.3 820.4L270.6 815.1L279.9 811.2L282.5 804.5L290.5 799.2L299.8 795.3L310.4 790.5L321.0 786.0L331.6 780.7L342.2 776.2L352.8 770.1L360.7 766.1L366.0 762.9L366.0 762.9L379.3 766.6L392.5 771.9L405.8 776.7L419.0 783.3L429.9 789.7L442.1 796.3L455.3 807.7L462.0 809.6L469.7 819.1L478.1 830.0L486.6 833.7L492.7 837.4L495.1 842.2L493.3 848.3L490.3 853.0L484.2 849.3L482.9 855.4L479.5 862.6L475.2 868.7L476.3 888.0L472.0 877.2L469.7 867.4L464.9 867.4L460.1 856.5L455.3 853.0L450.6 854.1L443.1 851.7L437.3 850.7L429.9 851.7L417.7 849.3L408.4 851.5L405.2 845.1L399.9 832.4L392.5 816.5L381.9 805.9L366.0 800.6L366.0 800.6L358.1 801.9L350.1 805.9L343.5 812.5L340.9 820.4L336.9 829.7L331.6 837.7L330.3 845.6L331.6 850.9L321.0 848.3L310.4 850.9L299.8 850.9L289.2 852.3L281.2 854.9L282.5 861.5L275.9 866.8L270.6 873.5L266.6 880.1L268.0 888.0L264.0 893.3L266.6 898.6L270.6 902.6L268.0 907.9L268.0 908.0L266.6 916.0L270.6 921.3L269.3 929.2L270.6 937.2L275.9 945.1L281.2 951.7L286.5 950.4L291.8 957.0L299.8 958.4L307.7 959.7L315.7 961.0L321.0 959.7L328.9 966.3L334.2 974.3L339.5 978.3L347.5 987.5L355.4 994.2L366.0 1000.3L366.0 1000.8L374.0 999.5L381.9 995.5L389.9 990.2L395.2 982.2L399.1 973.0L401.8 965.0L400.5 958.4L405.8 957.0L413.7 959.7L419.0 962.3L429.6 959.7L437.6 958.4L445.5 957.0L453.5 954.4L461.4 950.4L469.4 945.1L477.3 939.8L482.6 934.5L490.6 937.2L498.6 942.5L503.9 945.1L506.2 951.2L502.8 957.0L499.1 961.8L495.9 963.1L495.4 969.2L492.7 975.1L478.1 984.6L469.7 994.2L460.1 1004.0L451.6 1013.5L442.1 1017.2L446.9 1018.3L438.4 1023.3L429.9 1028.1L416.4 1033.9L405.8 1036.6L395.2 1040.6L387.2 1043.2L383.2 1048.5L374.0 1052.5L366.0 1055.1L366.0 1054.6L360.7 1049.8L352.8 1044.5L344.8 1040.6L336.9 1037.4L328.9 1037.9L321.0 1033.9L310.4 1030.0L299.8 1024.6L291.8 1018.0L283.9 1014.0L278.6 1008.7L270.6 1002.1L262.6 995.5L257.3 987.5L250.7 983.6L244.1 978.3L236.1 976.4L228.7 971.6L225.5 978.3L225.0 987.5L226.9 998.1L230.8 1008.7L237.5 1018.0L244.1 1027.3L253.4 1036.6L262.6 1044.5L273.3 1052.5L283.9 1059.1L294.5 1064.4L305.1 1069.7L318.3 1073.7L331.6 1076.3L344.8 1077.7L355.4 1077.7L366.0 1075.6L366.0 1075.6L379.3 1075.6L392.5 1074.5L405.8 1073.7L419.0 1070.8L429.9 1066.5L444.5 1059.9L457.7 1053.3L469.7 1044.8L486.6 1031.5L497.5 1019.6L504.7 1010.1L510.2 1005.0L514.5 996.9L520.9 985.2L526.4 973.0L531.0 960.4L534.6 947.6L537.1 934.4L538.7 921.2L539.2 907.8L538.7 894.4L537.1 881.2L534.6 868.0L531.0 855.2L526.4 842.6L520.9 830.4L514.5 818.7L516.8 825.2L509.4 814.3L499.9 801.1L490.3 787.8L475.8 775.1L460.1 765.0L445.5 754.7L429.9 748.6L419.0 744.4L405.8 740.1L392.5 738.0L379.3 737.5L366.0 739.0ZM481.9 904.4L483.8 908.4L482.7 916.4L480.6 911.1ZM487.2 921.7L492.5 916.4L499.2 915.0L503.1 919.0L501.8 925.7L496.5 929.6L491.2 929.6L487.2 927.0ZM490.6 914.6L501.2 918.6L503.9 922.6L498.6 926.6L497.2 929.2L489.3 929.2L486.6 923.9ZM482.6 955.7L493.3 957.0L495.9 961.0L489.3 963.7L484.0 959.7ZM485.4 865.7L486.6 879.5L488.4 872.3L496.3 877.1L507.1 866.3L502.3 854.8L498.1 859.6L492.0 858.4L487.2 872.3ZM489.6 895.2L495.1 888.0L501.1 892.8L498.7 900.0L491.4 900.0ZM482.2 955.9L490.6 955.3L493.0 959.5L496.0 963.1L488.2 961.9L485.8 959.5Z" fill="none" stroke="#ffe100" stroke-width="1.6" stroke-linejoin="round" stroke-linecap="round"/>
<path d="M471.2 927.1L472.8 927.1L472.8 928.7L471.2 928.7ZM471.1 927.6L472.3 927.6L472.3 929.0L471.1 929.0Z" fill="#ffe100" stroke="#ffe100" stroke-width="1.2" stroke-linejoin="round"/>
<path d="M362.1 751.0L358.1 747.5L342.2 745.7L328.9 745.4L318.3 746.7L305.1 750.7L293.1 755.5L281.2 761.3L270.6 768.2L260.0 776.7L250.7 786.0L242.8 795.3L236.1 804.5L231.4 813.8L229.0 821.8L229.5 826.5L236.1 828.4L241.4 824.4L248.1 819.1L254.7 813.8L259.5 805.9L266.6 799.8L275.9 792.1L283.9 784.6L294.5 780.7L305.1 775.4L315.7 770.9L326.3 765.6L336.9 761.3L347.5 758.1L355.4 754.2ZM232.2 988.9L237.5 987.0L245.4 991.5L252.0 995.5L260.0 1003.4L266.6 1012.7L275.9 1020.7L285.2 1027.3L294.5 1033.9L305.1 1039.2L315.7 1043.2L326.3 1046.4L336.9 1050.6L347.5 1055.1L356.8 1060.4L360.7 1065.7L358.1 1070.2L350.1 1072.4L339.5 1071.8L328.9 1070.2L318.3 1067.1L307.7 1063.1L297.1 1057.8L286.5 1051.2L275.9 1043.2L266.6 1035.3L257.3 1027.3L249.4 1019.3L241.4 1010.1L236.1 1002.1L233.0 995.5ZM379.3 756.8L374.0 752.8L375.3 747.5L387.2 745.4L400.5 746.7L413.7 749.7L429.9 754.7L445.5 761.3L460.1 772.2L473.4 779.3L484.2 790.2L495.1 801.1L504.7 812.0L509.4 819.1L514.5 830.0L511.1 820.8L517.3 832.2L522.7 844.1L527.2 856.4L530.7 869.0L533.2 881.8L534.7 894.8L535.2 907.8L534.7 920.8L533.2 933.8L530.7 946.6L527.2 959.2L522.7 971.5L517.3 983.4L511.1 994.8L505.4 1000.8L502.3 1004.0L493.8 1014.8L482.9 1028.1L466.2 1040.0L451.6 1048.5L442.1 1057.0L429.9 1060.4L419.0 1064.4L405.8 1067.1L392.5 1069.2L381.9 1068.4L381.9 1068.4L379.3 1064.4L381.9 1059.1L391.2 1053.8L400.5 1051.2L411.1 1047.2L421.7 1044.5L429.9 1040.0L434.9 1037.1L445.5 1032.9L454.0 1025.7L463.8 1014.8L475.8 1002.6L488.0 990.7L496.7 983.6L501.5 975.1L507.6 964.2L512.3 953.6L515.3 936.6L512.3 919.9L508.1 907.7L508.4 908.4L509.8 897.8L512.9 889.9L514.0 876.6L512.9 866.0L511.1 854.1L502.3 840.1L492.7 827.6L480.5 818.1L466.2 803.5L454.0 791.5L442.1 781.7L429.9 775.1L419.0 770.9L405.8 765.6L392.5 760.0L379.3 756.8ZM336.9 866.4L335.4 859.2L338.3 858.7L337.8 850.0L335.0 853.0L336.9 843.7L342.2 833.1L348.8 825.2L356.7 817.2L359.4 811.9L364.7 810.6L368.7 814.6L369.2 819.9L376.6 822.5L384.6 827.8L392.5 837.1L397.8 847.7L400.5 857.0L401.8 864.9L403.1 870.2M403.1 870.2L413.7 867.6L424.3 863.6L434.9 861.0L445.5 862.3L450.8 870.2L457.5 876.9L461.4 887.5L464.6 890.6L464.6 897.3L461.7 902.2L455.9 906.0L461.7 910.8L465.5 911.3L466.5 915.7L463.6 918.6L457.8 922.4L452.0 923.4L456.9 930.1L460.7 932.0L460.2 935.9L454.9 938.8L450.1 935.4L441.9 937.8L440.5 946.5L434.7 946.5L428.9 944.6L423.1 940.7L415.4 937.8L407.7 935.9M419.3 928.2L428.9 932.0L438.6 934.0L441.4 937.8L433.7 935.9L425.1 932.5L420.2 929.6ZM332.9 948.4L336.9 961.7L342.2 972.3L350.1 982.9L360.7 988.2L371.3 990.8L380.6 985.5L387.2 976.3L393.8 967.0L395.2 956.4L393.8 948.4M335.9 867.3L330.1 865.4L322.4 861.6L316.6 859.6L308.9 861.6L303.6 867.3L301.2 875.5L294.5 879.4L294.0 884.7L290.6 894.8L295.9 900.1L301.7 899.2L313.3 904.0L300.7 909.8L304.6 914.1L316.6 913.6L303.6 921.8L305.5 926.1L309.4 926.6L296.4 938.2L303.6 940.1L312.8 938.2L309.4 948.3L321.4 943.0L326.3 944.9L329.6 942.5L328.2 938.7L325.3 932.9L323.4 927.1L320.5 923.3L319.0 916.5L317.1 912.7L318.1 907.8L315.7 904.5L319.5 900.1L318.6 895.3L321.4 886.6L325.3 883.7L328.2 878.0ZM294.9 887.1L305.1 886.1L307.0 890.5L310.4 892.1L302.7 893.9L294.5 894.3L294.5 888.6ZM291.6 924.2L295.4 921.5L298.3 923.1L294.0 926.4ZM336.9 866.4L338.7 870.6L340.2 869.1L342.1 868.2L344.3 867.7L346.4 867.3L348.4 866.8L350.3 866.0L352.3 865.4L354.3 865.1L356.3 864.9L358.3 864.5L360.2 863.6L362.1 862.6L364.2 862.0L366.2 862.1L368.3 862.6L370.3 863.3L372.3 863.6L374.3 863.9L376.3 864.4L378.2 865.2L380.0 866.0L382.0 866.6L384.1 866.7L386.3 866.8L388.5 867.2L390.3 868.3L391.9 869.7L393.5 871.1L395.1 872.4L396.8 873.7L398.2 875.2L399.4 876.9L400.6 878.7L402.0 880.2L403.7 881.5L405.7 882.7L407.3 884.3L408.4 886.1L409.1 888.2L409.8 890.3L410.6 892.3L411.3 894.3L411.6 896.4L411.6 898.6L411.5 900.8L411.8 902.9L412.5 904.9L413.3 907.1L413.8 909.2L413.6 911.4L413.1 913.6L412.7 915.7L412.3 917.8L411.7 919.9L410.7 921.9L409.3 923.6L407.9 925.3L406.9 927.2L406.3 929.2L405.8 931.4L404.9 933.3L403.6 935.0L402.1 936.6L400.7 938.1L399.3 939.7L397.7 941.2L395.8 942.2L393.6 942.8L391.6 943.5L389.8 944.4L388.2 945.8L386.7 947.2L385.0 948.4L383.0 949.2L381.1 949.8L379.1 950.5L377.2 951.2L375.2 951.7L373.0 951.7L370.9 951.1L368.9 950.6L366.9 950.6L364.9 951.0L362.8 951.4L360.8 951.5L358.7 951.3L356.7 951.0L354.6 950.8L352.5 950.7L350.5 950.2L348.7 949.1L347.1 947.6L345.5 946.2L343.8 945.2L341.8 944.5L339.8 943.8L338.0 942.8L336.3 941.5L334.6 940.3L332.8 939.1L332.8 946.4M329.6 942.5L332.8 946.4L332.5 951.2M291.8 922.6L295.8 921.3L298.4 923.9L294.5 926.6Z" fill="none" stroke="#ff3200" stroke-width="1.6" stroke-linejoin="round" stroke-linecap="round"/>
<path d="M402.4 942.5L403.4 942.5L403.4 943.6L402.4 943.6ZM503.9 879.6L505.4 879.0L505.7 881.7L504.1 882.2Z" fill="#ff3200" stroke="#ff3200" stroke-width="1.2" stroke-linejoin="round"/>
<path d="M343.5 861.0L344.3 850.4L347.5 839.8L354.1 830.5L363.4 829.7L372.6 831.3L380.6 837.1L387.2 842.4L391.2 851.7L393.8 863.6L381.9 862.3L371.3 863.1L360.7 861.5L351.4 862.5ZM350.1 956.4L360.7 955.8L371.3 959.0L376.6 956.4L380.6 956.9L381.4 962.2L374.0 960.3L367.3 963.0L362.0 961.7L360.7 968.3L354.1 964.3ZM414.5 901.2L419.3 898.8L428.9 896.4L435.7 894.9L442.4 895.4L444.5 898.3L442.4 901.2L438.6 902.7L431.8 904.1L424.1 903.9L417.3 903.6L414.9 902.7ZM416.4 911.3L424.1 909.9L431.8 908.9L437.6 909.9L443.4 913.7L440.5 915.2L432.8 915.5L426.0 914.5L420.2 912.8ZM512.4 839.5L515.1 844.3L518.2 851.4L516.6 855.4L513.7 848.8ZM520.4 884.6L523.0 871.3L520.9 880.6L518.2 892.5L517.7 908.4L521.7 919.0L520.4 932.3L521.7 942.9L527.0 945.5L524.3 940.2L523.0 929.6L524.3 919.0L520.9 908.4L520.9 893.8ZM512.4 970.7L514.5 969.4L515.1 973.4L513.2 975.2Z" fill="none" stroke="#a01414" stroke-width="1.6" stroke-linejoin="round" stroke-linecap="round"/>
<path d="M413.5 891.6L423.1 888.7L423.6 889.6L414.5 892.5ZM429.9 886.7L438.1 882.9L438.6 885.3L430.8 887.7Z" fill="#a01414" stroke="#a01414" stroke-width="1.2" stroke-linejoin="round"/>
<path d="M409.8 907.4L409.6 911.2L409.1 915.0L408.3 918.7L407.2 922.3L405.7 925.8L404.0 929.2L401.9 932.4L399.6 935.4L397.0 938.2L394.2 940.8L391.2 943.1L388.0 945.2L384.6 946.9L381.1 948.4L377.5 949.5L373.8 950.3L370.0 950.8L366.2 951.0L362.4 950.8L358.6 950.3L354.9 949.5L351.3 948.4L347.8 946.9L344.4 945.2L341.2 943.1L338.2 940.8L335.4 938.2L332.8 935.4L330.5 932.4L328.4 929.2L326.7 925.8L325.2 922.3L324.1 918.7L323.3 915.0L322.8 911.2L322.6 907.4L322.8 903.6L323.3 899.8L324.1 896.1L325.2 892.5L326.7 889.0L328.4 885.6L330.5 882.4L332.8 879.4L335.4 876.6L338.2 874.0L341.2 871.7L344.4 869.6L347.8 867.9L351.3 866.4L354.9 865.3L358.6 864.5L362.4 864.0L366.2 863.8L370.0 864.0L373.8 864.5L377.5 865.3L381.1 866.4L384.6 867.9L388.0 869.6L391.2 871.7L394.2 874.0L397.0 876.6L399.6 879.4L401.9 882.4L404.0 885.6L405.7 889.0L407.2 892.5L408.3 896.1L409.1 899.8L409.6 903.6Z" fill="none" stroke="#ffe100" stroke-width="1.15"/>
<path d="M408.8 907.4L408.6 911.1L408.2 914.8L407.3 918.4L406.2 922.0L404.8 925.4L403.1 928.7L401.1 931.8L398.8 934.8L396.3 937.5L393.6 940.0L390.6 942.3L387.5 944.3L384.2 946.0L380.8 947.4L377.2 948.5L373.6 949.4L369.9 949.8L366.2 950.0L362.5 949.8L358.8 949.4L355.2 948.5L351.6 947.4L348.2 946.0L344.9 944.3L341.8 942.3L338.8 940.0L336.1 937.5L333.6 934.8L331.3 931.8L329.3 928.7L327.6 925.4L326.2 922.0L325.1 918.4L324.2 914.8L323.8 911.1L323.6 907.4L323.8 903.7L324.2 900.0L325.1 896.4L326.2 892.8L327.6 889.4L329.3 886.1L331.3 883.0L333.6 880.0L336.1 877.3L338.8 874.8L341.8 872.5L344.9 870.5L348.2 868.8L351.6 867.4L355.2 866.3L358.8 865.4L362.5 865.0L366.2 864.8L369.9 865.0L373.6 865.4L377.2 866.3L380.8 867.4L384.2 868.8L387.5 870.5L390.6 872.5L393.6 874.8L396.3 877.3L398.8 880.0L401.1 883.0L403.1 886.1L404.8 889.4L406.2 892.8L407.3 896.4L408.2 900.0L408.6 903.7Z" fill="none" stroke="#78ff00" stroke-width="1.15"/>
<path d="M407.9 907.4L407.7 911.0L407.3 914.6L406.5 918.2L405.4 921.7L404.0 925.0L402.3 928.2L400.4 931.3L398.1 934.2L395.7 936.9L393.0 939.3L390.1 941.6L387.1 943.5L383.8 945.2L380.5 946.6L377.0 947.7L373.4 948.5L369.8 948.9L366.2 949.1L362.6 948.9L359.0 948.5L355.4 947.7L351.9 946.6L348.6 945.2L345.4 943.5L342.3 941.6L339.4 939.3L336.7 936.9L334.3 934.2L332.0 931.3L330.1 928.2L328.4 925.0L327.0 921.7L325.9 918.2L325.1 914.6L324.7 911.0L324.5 907.4L324.7 903.8L325.1 900.2L325.9 896.6L327.0 893.1L328.4 889.8L330.1 886.5L332.0 883.5L334.3 880.6L336.7 877.9L339.4 875.5L342.3 873.2L345.3 871.3L348.6 869.6L351.9 868.2L355.4 867.1L359.0 866.3L362.6 865.9L366.2 865.7L369.8 865.9L373.4 866.3L377.0 867.1L380.5 868.2L383.8 869.6L387.0 871.3L390.1 873.2L393.0 875.5L395.7 877.9L398.1 880.6L400.4 883.5L402.3 886.5L404.0 889.8L405.4 893.1L406.5 896.6L407.3 900.2L407.7 903.8Z" fill="none" stroke="#14f5c0" stroke-width="1.15"/>
<path d="M407.0 907.4L406.8 911.0L406.4 914.5L405.6 918.0L404.5 921.4L403.2 924.6L401.5 927.8L399.6 930.8L397.5 933.6L395.0 936.2L392.4 938.7L389.6 940.8L386.6 942.7L383.4 944.4L380.2 945.7L376.8 946.8L373.3 947.6L369.8 948.0L366.2 948.2L362.6 948.0L359.1 947.6L355.6 946.8L352.2 945.7L349.0 944.4L345.8 942.7L342.8 940.8L340.0 938.7L337.4 936.2L334.9 933.6L332.8 930.8L330.9 927.8L329.2 924.6L327.9 921.4L326.8 918.0L326.0 914.5L325.6 911.0L325.4 907.4L325.6 903.8L326.0 900.3L326.8 896.8L327.9 893.4L329.2 890.2L330.9 887.0L332.8 884.0L334.9 881.2L337.4 878.6L340.0 876.1L342.8 874.0L345.8 872.1L349.0 870.4L352.2 869.1L355.6 868.0L359.1 867.2L362.6 866.8L366.2 866.6L369.8 866.8L373.3 867.2L376.8 868.0L380.2 869.1L383.4 870.4L386.6 872.1L389.6 874.0L392.4 876.1L395.0 878.6L397.5 881.2L399.6 884.0L401.5 887.0L403.2 890.2L404.5 893.4L405.6 896.8L406.4 900.3L406.8 903.8Z" fill="none" stroke="#0f5aff" stroke-width="1.15"/>
<path d="M406.2 907.4L406.0 910.9L405.6 914.3L404.8 917.8L403.8 921.1L402.5 924.3L400.8 927.4L399.0 930.3L396.8 933.1L394.5 935.7L391.9 938.0L389.1 940.2L386.2 942.0L383.1 943.7L379.9 945.0L376.6 946.0L373.1 946.8L369.7 947.2L366.2 947.4L362.7 947.2L359.3 946.8L355.8 946.0L352.5 945.0L349.3 943.7L346.2 942.0L343.3 940.2L340.5 938.0L337.9 935.7L335.6 933.1L333.4 930.3L331.6 927.4L329.9 924.3L328.6 921.1L327.6 917.8L326.8 914.3L326.4 910.9L326.2 907.4L326.4 903.9L326.8 900.5L327.6 897.0L328.6 893.7L329.9 890.5L331.6 887.4L333.4 884.5L335.6 881.7L337.9 879.1L340.5 876.8L343.3 874.6L346.2 872.8L349.3 871.1L352.5 869.8L355.8 868.8L359.3 868.0L362.7 867.6L366.2 867.4L369.7 867.6L373.1 868.0L376.6 868.8L379.9 869.8L383.1 871.1L386.2 872.8L389.1 874.6L391.9 876.8L394.5 879.1L396.8 881.7L399.0 884.5L400.8 887.4L402.5 890.5L403.8 893.7L404.8 897.0L405.6 900.5L406.0 903.9Z" fill="none" stroke="#2a2aa8" stroke-width="1.15"/>
<clipPath id="wc"><path d="M506.4 817.5L510.7 830.1L514.9 844.6L519.1 857.8L522.1 869.9L524.5 884.3L526.9 898.8L527.5 909.6L526.7 922.0L524.3 940.1L520.7 955.8L515.9 970.2L509.3 984.7L499.6 998.6L505.7 1002.2L511.7 1006.4L517.7 1010.0L524.9 1013.6L533.4 1016.0L541.8 1016.6L549.0 1014.8L552.7 1013.0L557.5 1006.4L558.5 1002.9L560.8 1000.0L562.3 996.7L562.9 993.4L564.8 990.8L565.3 987.4L567.1 984.7L567.4 981.1L569.2 978.0L569.3 974.4L571.1 971.2L571.9 967.8L571.9 963.8L573.5 960.0L573.4 956.0L574.8 952.2L574.5 948.5L575.7 945.0L575.2 941.3L576.4 937.7L576.6 934.1L576.1 930.4L577.2 926.9L576.6 923.2L577.7 919.6L577.8 916.0L577.6 912.7L578.7 909.6L578.0 906.4L578.7 903.2L577.9 900.0L578.6 896.8L577.8 893.6L578.4 890.4L577.4 886.8L577.9 883.1L576.7 879.6L577.2 875.9L576.7 872.3L575.3 868.4L575.4 864.2L574.6 860.2L572.9 856.4L572.7 852.2L571.6 848.2L569.7 845.1L569.2 841.5L567.1 838.5L566.5 834.9L563.8 831.7L562.4 827.6L560.2 824.1L557.4 821.7L555.9 818.4L553.6 815.7L548.0 810.2L543.2 809.0L539.0 809.4L534.8 808.4L530.6 809.4L526.3 809.0L523.3 810.7L519.9 810.9L516.7 812.0L512.9 814.9L508.4 816.6L506.4 817.5Z"/></clipPath>
<g clip-path="url(#wc)">
<rect x="494" y="802" width="92" height="222" fill="#000"/>
<path d="M494.5 802.0L496.0 802.0L497.5 802.0L499.0 802.0L500.5 802.0L502.0 802.0L503.5 802.0L505.0 802.0L506.5 802.0L508.0 802.0L509.5 802.0L511.0 802.0L512.5 802.0L514.0 802.0L515.5 802.0L517.0 802.0L518.5 802.0L520.0 802.0L521.5 802.0L523.0 802.0L524.5 802.0L526.0 802.0L527.5 802.0L529.0 802.0L530.5 802.0L532.0 802.0L533.5 802.0L535.0 802.0L536.5 802.0L538.0 802.0L539.5 802.0L540.9 803.0L539.5 803.6L538.0 803.7L536.5 803.8L535.0 803.9L533.5 804.2L532.0 804.5L530.5 804.8L529.0 805.1L527.5 805.4L526.0 805.7L524.5 806.3L523.0 806.9L521.5 807.3L520.0 807.8L518.5 808.3L517.0 808.7L515.5 809.2L514.1 810.0L513.5 811.5L513.5 813.0L513.5 814.5L513.5 816.0L514.5 816.7L515.7 816.0L517.0 815.3L518.5 814.6L520.0 814.1L521.5 813.7L523.0 813.2L524.5 812.8L526.0 812.5L527.5 812.4L529.0 812.5L530.5 812.6L532.0 812.7L533.5 812.8L535.0 812.9L536.5 813.3L537.7 813.5L539.0 813.8L540.5 814.1L542.0 814.4L543.5 814.9L545.0 815.5L546.3 816.0L547.5 816.4L549.0 816.5L550.4 817.5L551.3 819.0L552.0 820.3L552.7 821.5L553.5 823.0L554.3 824.5L555.0 825.8L555.6 827.0L556.3 828.5L557.0 830.0L557.5 831.1L558.0 832.3L558.5 833.5L559.0 834.7L559.5 836.0L560.0 837.4L560.5 838.8L560.9 840.0L561.4 841.5L561.8 843.0L562.3 844.5L562.7 846.0L563.1 847.5L563.5 849.0L563.8 850.5L564.1 852.0L564.4 853.5L564.7 855.0L565.0 856.5L565.2 858.0L565.5 859.5L565.7 861.0L565.9 862.5L566.1 864.0L566.3 865.5L566.5 867.0L566.7 868.5L566.8 870.0L567.0 871.5L567.1 873.0L567.2 874.5L567.4 876.0L567.5 877.5L567.6 879.0L567.7 880.5L567.8 882.0L567.9 883.5L568.0 885.0L568.1 886.5L568.2 888.0L568.2 889.5L568.3 891.0L568.4 892.5L568.4 894.0L568.5 895.5L568.5 897.0L568.5 898.5L568.5 900.0L568.6 901.5L568.6 903.0L568.6 904.5L568.6 906.0L568.6 907.5L568.5 909.0L568.5 910.3L568.5 912.0L568.4 913.5L568.4 915.0L568.3 916.5L568.2 918.0L568.1 919.5L568.0 921.0L567.9 922.5L567.8 924.0L567.7 925.5L567.5 927.0L567.4 928.5L567.2 930.0L567.0 931.5L566.8 933.0L566.6 934.5L566.4 936.0L566.2 937.5L566.0 938.9L565.8 940.5L565.5 941.9L565.2 943.5L565.0 944.7L564.8 946.0L564.5 947.3L564.2 949.0L563.9 950.5L563.5 952.0L563.2 953.5L562.8 955.0L562.5 956.3L562.2 957.5L561.8 959.0L561.5 960.2L561.2 961.5L560.7 963.0L560.3 964.5L559.9 966.0L559.4 967.5L559.0 968.7L558.6 970.0L558.1 971.5L557.6 973.0L557.1 974.5L556.6 976.0L556.0 977.5L555.5 978.9L555.1 980.0L554.5 981.5L554.0 982.8L553.5 984.0L553.0 985.2L552.5 986.4L552.0 987.6L551.5 988.7L551.0 989.9L550.5 991.0L550.0 992.1L549.4 993.5L548.6 995.0L548.0 996.3L547.4 997.5L546.7 999.0L546.0 1000.3L545.4 1001.5L544.6 1003.0L544.0 1004.1L543.2 1005.5L542.5 1006.8L541.8 1008.0L541.0 1009.4L540.4 1010.5L539.5 1012.0L538.6 1013.5L537.0 1013.8L535.5 1013.7L534.0 1013.6L532.5 1013.2L531.0 1012.8L529.5 1012.3L528.0 1011.9L526.6 1011.5L525.2 1011.0L524.0 1010.4L522.5 1009.6L521.2 1009.0L520.0 1008.4L518.5 1007.6L517.0 1006.7L515.5 1006.0L515.5 1007.5L515.5 1009.0L515.5 1010.5L516.0 1011.9L517.1 1012.5L518.5 1013.2L520.0 1013.9L521.1 1014.5L522.5 1015.2L524.0 1015.9L525.5 1016.3L527.0 1016.7L528.5 1017.2L530.0 1017.6L531.3 1018.0L532.5 1018.3L534.0 1018.6L534.5 1019.9L533.8 1021.0L533.1 1022.0L532.4 1023.0L531.0 1023.5L529.5 1023.5L528.0 1023.5L526.5 1023.5L525.0 1023.5L523.5 1023.5L522.0 1023.5L520.5 1023.5L519.0 1023.5L517.5 1023.5L516.0 1023.5L514.5 1023.5L513.0 1023.5L511.5 1023.5L510.0 1023.5L508.5 1023.5L507.0 1023.5L505.5 1023.5L504.0 1023.5L502.5 1023.5L501.0 1023.5L499.5 1023.5L498.0 1023.5L496.5 1023.5L495.0 1023.5L494.0 1022.5L494.0 1021.0L494.0 1019.5L494.0 1018.0L494.0 1016.5L494.0 1015.0L494.0 1013.5L494.0 1012.0L494.0 1010.5L494.0 1009.0L494.0 1007.5L494.0 1006.0L494.0 1004.5L494.0 1003.0L494.0 1001.5L494.0 1000.0L494.0 998.5L494.0 997.0L494.0 995.5L494.0 994.0L494.0 992.5L494.0 991.0L494.0 989.5L494.0 988.0L494.0 986.5L494.0 985.0L494.0 983.5L494.0 982.0L494.0 980.5L494.0 979.0L494.0 977.5L494.0 976.0L494.0 974.5L494.0 973.0L494.0 971.5L494.0 970.0L494.0 968.5L494.0 967.0L494.0 965.5L494.0 964.0L494.0 962.5L494.0 961.0L494.0 959.5L494.0 958.0L494.0 956.5L494.0 955.0L494.0 953.5L494.0 952.0L494.0 950.5L494.0 949.0L494.0 947.5L494.0 946.0L494.0 944.5L494.0 943.0L494.0 941.5L494.0 940.0L494.0 938.5L494.0 937.0L494.0 935.5L494.0 934.0L494.0 932.5L494.0 931.0L494.0 929.5L494.0 928.0L494.0 926.5L494.0 925.0L494.0 923.5L494.0 922.0L494.0 920.5L494.0 919.0L494.0 917.5L494.0 916.0L494.0 914.5L494.0 913.0L494.0 911.5L494.0 910.0L494.0 908.5L494.0 907.0L494.0 905.5L494.0 904.0L494.0 902.5L494.0 901.0L494.0 899.5L494.0 898.0L494.0 896.5L494.0 895.0L494.0 893.5L494.0 892.0L494.0 890.5L494.0 889.0L494.0 887.5L494.0 886.0L494.0 884.5L494.0 883.0L494.0 881.5L494.0 880.0L494.0 878.5L494.0 877.0L494.0 875.5L494.0 874.0L494.0 872.5L494.0 871.0L494.0 869.5L494.0 868.0L494.0 866.5L494.0 865.0L494.0 863.5L494.0 862.0L494.0 860.5L494.0 859.0L494.0 857.5L494.0 856.0L494.0 854.5L494.0 853.0L494.0 851.5L494.0 850.0L494.0 848.5L494.0 847.0L494.0 845.5L494.0 844.0L494.0 842.5L494.0 841.0L494.0 839.5L494.0 838.0L494.0 836.5L494.0 835.0L494.0 833.5L494.0 832.0L494.0 830.5L494.0 829.0L494.0 827.5L494.0 826.0L494.0 824.5L494.0 823.0L494.0 821.5L494.0 820.0L494.0 818.5L494.0 817.0L494.0 815.5L494.0 814.0L494.0 812.5L494.0 811.0L494.0 809.5L494.0 808.0L494.0 806.5L494.0 805.0L494.0 803.5L494.0 802.0Z" fill="#4600b4" fill-rule="evenodd"/>
<path d="M494.5 802.0L496.0 802.0L497.5 802.0L499.0 802.0L500.5 802.0L502.0 802.0L503.5 802.0L505.0 802.0L506.5 802.0L508.0 802.0L509.5 802.0L511.0 802.0L512.5 802.0L514.0 802.0L515.5 802.0L517.0 802.0L518.5 802.0L520.0 802.0L521.5 802.0L523.0 802.0L524.5 802.0L523.0 802.7L521.5 803.2L520.0 803.6L518.8 804.0L517.5 804.4L516.0 804.9L514.5 805.4L513.1 806.0L512.0 806.6L510.5 807.4L510.0 809.0L510.0 810.5L510.0 812.0L510.0 813.5L510.0 815.0L510.0 816.5L510.0 818.0L510.0 819.5L510.0 821.0L510.0 822.5L511.2 823.0L512.5 822.3L514.0 821.5L515.5 820.7L516.7 820.0L518.0 819.3L519.4 818.5L521.0 818.0L522.5 817.5L524.0 817.1L525.5 817.1L527.0 817.1L528.5 817.3L530.0 817.7L531.3 818.0L533.0 818.4L534.5 818.8L536.0 819.3L537.5 819.9L539.0 820.5L540.3 821.0L541.4 821.5L542.5 822.1L543.5 823.5L544.4 825.0L545.0 826.1L545.8 827.5L546.5 828.9L547.1 830.0L547.8 831.5L548.5 832.9L549.0 834.0L549.5 835.2L550.0 836.3L550.5 837.5L551.0 838.8L551.4 840.0L552.0 841.5L552.5 843.0L553.0 844.5L553.4 846.0L553.9 847.5L554.3 849.0L554.6 850.5L555.0 852.0L555.3 853.5L555.6 855.0L555.9 856.5L556.2 858.0L556.4 859.5L556.6 861.0L556.9 862.5L557.1 864.0L557.3 865.5L557.4 867.0L557.6 868.5L557.8 870.0L557.9 871.5L558.0 872.8L558.1 874.0L558.2 875.5L558.4 877.0L558.5 878.5L558.6 880.0L558.7 881.5L558.8 883.0L558.8 884.5L558.9 886.0L559.0 887.5L559.1 889.0L559.1 890.5L559.2 892.0L559.2 893.5L559.3 895.0L559.3 896.5L559.3 898.0L559.4 899.5L559.4 901.0L559.4 902.5L559.4 904.0L559.4 905.5L559.4 907.0L559.4 908.5L559.3 910.0L559.3 911.5L559.2 913.0L559.2 914.5L559.1 916.0L559.0 917.5L558.9 919.0L558.8 920.5L558.7 922.0L558.6 923.5L558.5 925.0L558.3 926.5L558.2 928.0L558.0 929.4L557.8 931.0L557.6 932.5L557.4 934.0L557.2 935.5L557.0 936.9L556.8 938.5L556.5 940.0L556.3 941.5L556.0 942.8L555.7 944.5L555.4 946.0L555.1 947.5L554.8 949.0L554.4 950.5L554.1 952.0L553.7 953.5L553.4 955.0L553.0 956.3L552.6 958.0L552.2 959.5L551.7 961.0L551.3 962.5L550.9 964.0L550.4 965.5L550.0 966.7L549.6 968.0L549.1 969.5L548.6 971.0L548.0 972.5L547.5 974.0L547.0 975.3L546.6 976.5L546.0 978.0L545.5 979.2L545.0 980.5L544.5 981.7L544.0 982.9L543.5 984.0L543.0 985.2L542.5 986.3L542.0 987.5L541.5 988.5L540.8 990.0L540.1 991.5L539.5 992.8L538.9 994.0L538.1 995.5L537.5 996.7L536.8 998.0L536.0 999.5L535.2 1001.0L534.5 1002.3L533.8 1003.5L533.0 1004.9L532.4 1006.0L531.5 1007.4L530.9 1008.5L530.0 1009.9L528.5 1010.3L527.0 1009.9L525.5 1009.2L524.1 1008.5L522.5 1007.7L521.1 1007.0L519.5 1006.2L518.3 1005.5L517.0 1004.7L515.8 1004.0L514.5 1003.2L513.5 1002.5L512.5 1001.9L512.0 1003.0L512.0 1004.5L512.0 1006.0L512.0 1007.5L512.0 1009.0L512.0 1010.5L512.5 1011.7L513.7 1012.5L515.0 1013.2L516.3 1014.0L517.5 1014.6L519.0 1015.3L520.3 1016.0L521.5 1016.6L523.0 1017.3L524.5 1018.0L523.6 1019.5L522.9 1020.5L522.2 1021.5L521.4 1022.5L520.7 1023.5L519.0 1023.5L517.5 1023.5L516.0 1023.5L514.5 1023.5L513.0 1023.5L511.5 1023.5L510.0 1023.5L508.5 1023.5L507.0 1023.5L505.5 1023.5L504.0 1023.5L502.5 1023.5L501.0 1023.5L499.5 1023.5L498.0 1023.5L496.5 1023.5L495.0 1023.5L494.0 1022.5L494.0 1021.0L494.0 1019.5L494.0 1018.0L494.0 1016.5L494.0 1015.0L494.0 1013.5L494.0 1012.0L494.0 1010.5L494.0 1009.0L494.0 1007.5L494.0 1006.0L494.0 1004.5L494.0 1003.0L494.0 1001.5L494.0 1000.0L494.0 998.5L494.0 997.0L494.0 995.5L494.0 994.0L494.0 992.5L494.0 991.0L494.0 989.5L494.0 988.0L494.0 986.5L494.0 985.0L494.0 983.5L494.0 982.0L494.0 980.5L494.0 979.0L494.0 977.5L494.0 976.0L494.0 974.5L494.0 973.0L494.0 971.5L494.0 970.0L494.0 968.5L494.0 967.0L494.0 965.5L494.0 964.0L494.0 962.5L494.0 961.0L494.0 959.5L494.0 958.0L494.0 956.5L494.0 955.0L494.0 953.5L494.0 952.0L494.0 950.5L494.0 949.0L494.0 947.5L494.0 946.0L494.0 944.5L494.0 943.0L494.0 941.5L494.0 940.0L494.0 938.5L494.0 937.0L494.0 935.5L494.0 934.0L494.0 932.5L494.0 931.0L494.0 929.5L494.0 928.0L494.0 926.5L494.0 925.0L494.0 923.5L494.0 922.0L494.0 920.5L494.0 919.0L494.0 917.5L494.0 916.0L494.0 914.5L494.0 913.0L494.0 911.5L494.0 910.0L494.0 908.5L494.0 907.0L494.0 905.5L494.0 904.0L494.0 902.5L494.0 901.0L494.0 899.5L494.0 898.0L494.0 896.5L494.0 895.0L494.0 893.5L494.0 892.0L494.0 890.5L494.0 889.0L494.0 887.5L494.0 886.0L494.0 884.5L494.0 883.0L494.0 881.5L494.0 880.0L494.0 878.5L494.0 877.0L494.0 875.5L494.0 874.0L494.0 872.5L494.0 871.0L494.0 869.5L494.0 868.0L494.0 866.5L494.0 865.0L494.0 863.5L494.0 862.0L494.0 860.5L494.0 859.0L494.0 857.5L494.0 856.0L494.0 854.5L494.0 853.0L494.0 851.5L494.0 850.0L494.0 848.5L494.0 847.0L494.0 845.5L494.0 844.0L494.0 842.5L494.0 841.0L494.0 839.5L494.0 838.0L494.0 836.5L494.0 835.0L494.0 833.5L494.0 832.0L494.0 830.5L494.0 829.0L494.0 827.5L494.0 826.0L494.0 824.5L494.0 823.0L494.0 821.5L494.0 820.0L494.0 818.5L494.0 817.0L494.0 815.5L494.0 814.0L494.0 812.5L494.0 811.0L494.0 809.5L494.0 808.0L494.0 806.5L494.0 805.0L494.0 803.5L494.0 802.0Z" fill="#0f5aff" fill-rule="evenodd"/>
<path d="M494.5 802.0L496.0 802.0L497.5 802.0L499.0 802.0L500.5 802.0L502.0 802.0L503.5 802.0L505.0 802.0L506.5 802.0L508.0 802.0L509.5 802.0L511.0 802.0L512.5 802.0L511.0 802.8L509.8 803.5L508.5 804.2L507.1 805.0L506.0 805.6L504.5 806.4L503.4 807.0L502.3 807.5L501.0 808.2L499.7 809.0L498.6 810.0L497.8 811.0L497.1 812.0L496.5 813.2L496.0 814.5L495.7 816.0L495.6 817.5L495.7 819.0L496.0 820.4L496.5 821.8L497.1 823.0L497.8 824.0L498.6 825.0L499.7 826.0L501.0 826.8L502.3 827.5L503.5 827.9L505.0 828.2L506.5 828.3L508.0 828.2L509.2 829.0L509.7 830.5L510.1 832.0L510.5 833.4L511.0 835.0L511.4 836.5L511.9 838.0L512.3 839.5L512.7 841.0L513.2 842.5L513.5 843.7L513.9 845.0L514.4 846.5L514.8 848.0L515.3 849.5L515.8 851.0L516.3 852.5L516.7 854.0L517.2 855.5L517.7 857.0L518.2 858.5L518.5 859.9L518.9 861.5L519.3 863.0L519.6 864.5L520.0 866.0L520.4 867.5L520.8 869.0L521.1 870.5L521.3 872.0L521.6 873.5L521.8 875.0L522.1 876.5L522.3 878.0L522.6 879.5L522.8 881.0L523.1 882.5L523.3 884.0L523.6 885.5L523.8 887.0L524.1 888.5L524.3 890.0L524.6 891.5L524.8 893.0L525.1 894.5L525.3 896.0L525.6 897.5L525.8 899.0L525.9 900.5L526.0 902.0L526.1 903.5L526.2 905.0L526.2 906.5L526.3 908.0L526.4 909.5L526.3 911.0L526.2 912.5L526.1 914.0L526.0 915.5L525.9 917.0L525.8 918.5L525.7 920.0L525.6 921.5L525.5 922.7L525.3 924.0L525.1 925.5L524.9 927.0L524.7 928.5L524.5 930.0L524.3 931.5L524.1 933.0L523.9 934.5L523.7 936.0L523.5 937.5L523.3 939.0L523.1 940.5L522.7 942.0L522.4 943.5L522.1 945.0L521.7 946.5L521.4 948.0L521.0 949.5L520.7 951.0L520.3 952.5L520.0 953.9L519.6 955.5L519.2 957.0L518.7 958.5L518.2 960.0L517.7 961.5L517.2 963.0L516.7 964.5L516.2 966.0L515.7 967.5L515.2 969.0L514.6 970.5L514.0 971.7L513.5 972.8L513.0 973.9L512.5 975.0L512.0 976.1L511.5 977.2L511.0 978.3L510.5 979.4L510.0 980.5L509.5 981.6L509.0 982.7L508.5 983.8L507.8 985.0L507.1 986.0L506.4 987.0L505.7 988.0L505.0 989.0L504.3 990.0L503.6 991.0L502.9 992.0L502.2 993.0L501.0 993.4L499.5 993.2L498.0 993.4L496.8 994.0L495.6 995.0L494.9 996.0L494.3 997.5L494.2 999.0L494.5 1000.4L495.0 1001.5L495.9 1002.5L497.0 1003.4L498.1 1004.0L499.5 1004.8L500.7 1005.5L502.0 1006.3L503.1 1007.0L504.5 1008.0L505.5 1008.7L506.5 1009.4L507.5 1010.1L508.5 1010.8L509.7 1011.5L511.0 1012.3L512.2 1013.0L513.5 1013.8L514.7 1014.5L516.0 1015.3L515.5 1017.0L514.8 1018.0L514.1 1019.0L513.3 1020.0L512.5 1021.0L511.8 1022.0L511.0 1023.0L509.5 1023.5L508.0 1023.5L506.5 1023.5L505.0 1023.5L503.5 1023.5L502.0 1023.5L500.5 1023.5L499.0 1023.5L497.5 1023.5L496.0 1023.5L494.5 1023.5L494.0 1022.0L494.0 1020.5L494.0 1019.0L494.0 1017.5L494.0 1016.0L494.0 1014.5L494.0 1013.0L494.0 1011.5L494.0 1010.0L494.0 1008.5L494.0 1007.0L494.0 1005.5L494.0 1004.0L494.0 1002.5L494.0 1001.0L494.0 999.5L494.0 998.0L494.0 996.5L494.0 995.0L494.0 993.5L494.0 992.0L494.0 990.5L494.0 989.0L494.0 987.5L494.0 986.0L494.0 984.5L494.0 983.0L494.0 981.5L494.0 980.0L494.0 978.5L494.0 977.0L494.0 975.5L494.0 974.0L494.0 972.5L494.0 971.0L494.0 969.5L494.0 968.0L494.0 966.5L494.0 965.0L494.0 963.5L494.0 962.0L494.0 960.5L494.0 959.0L494.0 957.5L494.0 956.0L494.0 954.5L494.0 953.0L494.0 951.5L494.0 950.0L494.0 948.5L494.0 947.0L494.0 945.5L494.0 944.0L494.0 942.5L494.0 941.0L494.0 939.5L494.0 938.0L494.0 936.5L494.0 935.0L494.0 933.5L494.0 932.0L494.0 930.5L494.0 929.0L494.0 927.5L494.0 926.0L494.0 924.5L494.0 923.0L494.0 921.5L494.0 920.0L494.0 918.5L494.0 917.0L494.0 915.5L494.0 914.0L494.0 912.5L494.0 911.0L494.0 909.5L494.0 908.0L494.0 906.5L494.0 905.0L494.0 903.5L494.0 902.0L494.0 900.5L494.0 899.0L494.0 897.5L494.0 896.0L494.0 894.5L494.0 893.0L494.0 891.5L494.0 890.0L494.0 888.5L494.0 887.0L494.0 885.5L494.0 884.0L494.0 882.5L494.0 881.0L494.0 879.5L494.0 878.0L494.0 876.5L494.0 875.0L494.0 873.5L494.0 872.0L494.0 870.5L494.0 869.0L494.0 867.5L494.0 866.0L494.0 864.5L494.0 863.0L494.0 861.5L494.0 860.0L494.0 858.5L494.0 857.0L494.0 855.5L494.0 854.0L494.0 852.5L494.0 851.0L494.0 849.5L494.0 848.0L494.0 846.5L494.0 845.0L494.0 843.5L494.0 842.0L494.0 840.5L494.0 839.0L494.0 837.5L494.0 836.0L494.0 834.5L494.0 833.0L494.0 831.5L494.0 830.0L494.0 828.5L494.0 827.0L494.0 825.5L494.0 824.0L494.0 822.5L494.0 821.0L494.0 819.5L494.0 818.0L494.0 816.5L494.0 815.0L494.0 813.5L494.0 812.0L494.0 810.5L494.0 809.0L494.0 807.5L494.0 806.0L494.0 804.5L494.0 803.0ZM523.0 821.3L524.5 821.1L526.0 821.4L527.5 821.7L528.7 822.0L530.0 822.5L531.1 823.0L532.3 823.5L533.5 824.0L534.7 824.5L536.0 825.4L536.7 826.5L537.5 827.8L538.2 829.0L539.0 830.4L539.6 831.5L540.4 833.0L541.0 834.2L541.6 835.5L542.3 837.0L543.0 838.5L543.5 839.7L544.0 840.9L544.5 842.2L545.0 843.5L545.5 845.0L546.0 846.5L546.4 848.0L546.8 849.5L547.2 851.0L547.6 852.5L547.9 854.0L548.2 855.5L548.5 857.0L548.7 858.5L549.0 860.0L549.2 861.5L549.4 863.0L549.6 864.5L549.7 866.0L549.9 867.5L550.1 869.0L550.2 870.5L550.3 872.0L550.4 873.5L550.5 875.0L550.6 876.5L550.7 878.0L550.8 879.5L550.9 881.0L550.9 882.5L551.0 883.9L551.1 885.5L551.1 887.0L551.2 888.5L551.2 890.0L551.3 891.5L551.3 893.0L551.4 894.5L551.4 896.0L551.4 897.5L551.4 899.0L551.4 900.5L551.4 902.0L551.4 903.5L551.4 905.0L551.4 906.5L551.4 908.0L551.4 909.5L551.3 911.0L551.3 912.5L551.2 914.0L551.1 915.5L551.0 917.0L551.0 918.5L550.9 920.0L550.8 921.5L550.6 923.0L550.5 924.2L550.4 925.5L550.2 927.0L550.1 928.5L549.9 930.0L549.7 931.5L549.5 932.9L549.3 934.5L549.1 936.0L548.8 937.5L548.6 939.0L548.3 940.5L548.0 942.0L547.8 943.5L547.4 945.0L547.1 946.5L546.8 948.0L546.5 949.3L546.2 950.5L545.9 952.0L545.5 953.4L545.1 955.0L544.7 956.5L544.3 958.0L543.9 959.5L543.4 961.0L543.0 962.3L542.6 963.5L542.2 965.0L541.7 966.5L541.2 968.0L540.6 969.5L540.1 971.0L539.5 972.5L539.0 973.9L538.5 975.2L538.0 976.4L537.5 977.7L537.0 978.9L536.5 980.1L536.0 981.3L535.5 982.4L535.0 983.5L534.5 984.6L534.0 985.7L533.4 987.0L532.7 988.5L532.0 989.9L531.4 991.0L530.7 992.5L530.0 993.8L529.4 995.0L528.6 996.5L527.7 998.0L527.0 999.3L526.3 1000.5L525.5 1001.9L524.8 1003.0L524.0 1004.4L523.3 1005.5L522.0 1006.1L520.8 1005.5L519.5 1004.8L518.2 1004.0L517.0 1003.3L515.7 1002.5L514.5 1001.7L513.5 1001.1L512.5 1000.4L511.5 999.7L510.5 999.0L509.5 998.2L508.5 997.6L507.0 996.7L505.8 996.0L504.5 995.2L504.1 994.0L504.8 993.0L505.5 992.0L506.2 991.0L506.9 990.0L507.6 989.0L508.3 988.0L509.0 987.0L509.7 986.0L510.5 984.7L511.0 983.6L511.5 982.5L512.0 981.4L512.5 980.3L513.0 979.2L513.5 978.1L514.0 977.0L514.5 975.9L515.0 974.8L515.5 973.7L516.0 972.6L516.5 971.5L517.0 970.4L517.5 969.0L518.0 967.5L518.5 966.0L519.0 964.5L519.5 963.0L520.0 961.5L520.5 960.0L521.0 958.5L521.5 957.0L521.9 955.5L522.2 954.0L522.6 952.5L522.9 951.0L523.3 949.5L523.6 948.0L524.0 946.5L524.3 945.0L524.6 943.5L525.0 942.0L525.3 940.5L525.6 939.0L525.7 937.5L525.9 936.0L526.1 934.5L526.3 933.0L526.5 931.5L526.7 930.0L526.9 928.5L527.1 927.0L527.3 925.5L527.5 924.0L527.7 922.5L527.9 921.0L528.0 919.5L528.1 918.0L528.1 916.5L528.2 915.0L528.3 913.5L528.4 912.0L528.5 910.5L528.6 909.0L528.5 907.8L528.4 906.5L528.3 905.0L528.3 903.5L528.2 902.0L528.1 900.5L528.0 899.0L527.8 897.5L527.5 896.0L527.3 894.5L527.1 893.0L526.8 891.5L526.6 890.0L526.3 888.5L526.1 887.0L525.8 885.5L525.6 884.0L525.3 882.5L525.1 881.0L524.8 879.5L524.6 878.0L524.3 876.5L524.1 875.0L523.8 873.5L523.6 872.0L523.3 870.5L523.0 869.0L522.6 867.5L522.3 866.0L521.9 864.5L521.5 863.0L521.1 861.5L520.8 860.0L520.4 858.5L520.0 857.0L519.5 855.5L519.0 854.0L518.6 852.5L518.1 851.0L517.6 849.5L517.1 848.0L516.6 846.5L516.2 845.0L515.7 843.5L515.3 842.0L514.8 840.5L514.5 839.3L514.1 838.0L513.7 836.5L513.3 835.0L512.8 833.5L512.4 832.0L512.0 830.6L511.5 829.0L511.0 827.6L512.0 826.8L513.5 826.1L514.6 825.5L516.0 824.7L517.3 824.0L518.5 823.3L520.0 822.5L521.5 821.8L523.0 821.3Z" fill="#14f5c0" fill-rule="evenodd"/>
<path d="M494.5 802.0L496.0 802.0L497.5 802.0L499.0 802.0L500.5 802.0L502.0 802.0L503.5 802.0L504.9 802.0L503.5 802.8L502.1 803.5L501.0 804.0L499.5 804.8L498.3 805.5L497.0 806.5L496.0 807.4L495.0 808.5L494.3 809.5L494.0 808.0L494.0 806.5L494.0 805.0L494.0 803.5L494.0 802.0ZM524.0 824.9L525.4 825.5L526.0 826.7L526.7 828.0L527.5 829.5L528.3 831.0L529.0 832.5L529.5 833.6L530.2 835.0L530.9 836.5L531.5 838.0L532.0 839.1L532.5 840.3L533.0 841.5L533.5 842.7L534.0 844.0L534.5 845.3L534.9 846.5L535.5 848.0L536.0 849.5L536.5 851.0L537.0 852.5L537.4 854.0L537.9 855.5L538.3 857.0L538.7 858.5L539.0 859.7L539.4 861.0L539.7 862.5L540.0 863.9L540.4 865.5L540.7 867.0L541.0 868.5L541.3 870.0L541.5 871.2L541.8 872.5L542.0 874.0L542.3 875.5L542.5 877.0L542.7 878.5L542.9 880.0L543.1 881.5L543.3 883.0L543.5 884.5L543.6 886.0L543.8 887.5L543.9 889.0L544.0 890.5L544.2 892.0L544.3 893.5L544.4 895.0L544.5 896.5L544.5 898.0L544.6 899.5L544.7 901.0L544.7 902.5L544.7 904.0L544.8 905.5L544.8 907.0L544.8 908.5L544.7 910.0L544.7 911.5L544.7 913.0L544.6 914.5L544.5 916.0L544.5 917.5L544.4 919.0L544.3 920.5L544.2 922.0L544.0 923.5L543.9 925.0L543.7 926.5L543.6 928.0L543.4 929.5L543.2 931.0L543.0 932.4L542.8 934.0L542.5 935.5L542.3 937.0L542.0 938.5L541.8 940.0L541.5 941.5L541.2 943.0L540.9 944.5L540.6 946.0L540.3 947.5L539.9 949.0L539.5 950.5L539.2 952.0L538.8 953.5L538.4 955.0L538.0 956.3L537.7 957.5L537.2 959.0L536.8 960.5L536.3 962.0L535.8 963.5L535.3 965.0L534.8 966.5L534.3 968.0L533.7 969.5L533.2 971.0L532.6 972.5L532.0 973.9L531.5 975.2L531.0 976.4L530.5 977.6L530.0 978.8L529.5 979.9L529.0 981.0L528.5 982.1L527.9 983.5L527.2 985.0L526.5 986.3L525.9 987.5L525.2 989.0L524.5 990.3L523.9 991.5L523.1 993.0L522.3 994.5L521.5 995.8L520.8 997.0L520.0 998.4L519.4 999.5L518.5 1000.9L517.5 1001.9L516.0 1001.0L514.5 1000.1L513.5 999.4L512.5 998.7L511.5 998.0L510.5 997.3L509.5 996.6L508.0 995.7L506.9 995.0L505.5 994.2L506.1 993.0L506.8 992.0L507.5 991.0L508.2 990.0L508.9 989.0L509.6 988.0L510.3 987.0L511.0 986.0L511.7 984.5L512.4 983.0L513.0 981.6L513.5 980.5L514.0 979.4L514.5 978.3L515.0 977.2L515.5 976.1L516.0 975.0L516.5 974.0L517.0 972.9L517.5 971.8L518.0 970.5L518.5 969.0L519.0 967.5L519.5 966.0L520.0 964.5L520.5 963.0L521.0 961.5L521.5 960.0L522.0 958.5L522.5 957.0L522.9 955.5L523.3 954.0L523.6 952.5L524.0 951.0L524.3 949.5L524.6 948.0L525.0 946.5L525.3 945.0L525.7 943.5L526.0 942.1L526.4 940.5L526.6 939.0L526.8 937.5L527.0 936.0L527.2 934.5L527.4 933.0L527.6 931.5L527.8 930.0L528.0 928.5L528.2 927.0L528.4 925.5L528.6 924.0L528.8 922.5L528.9 921.0L529.0 919.5L529.1 918.0L529.2 916.5L529.3 915.0L529.4 913.5L529.4 912.0L529.5 910.5L529.6 909.0L529.5 907.7L529.4 906.5L529.3 905.0L529.3 903.5L529.2 902.0L529.1 900.5L529.0 899.0L528.8 897.5L528.6 896.0L528.3 894.5L528.1 893.0L527.8 891.5L527.6 890.0L527.3 888.5L527.1 887.0L526.8 885.5L526.6 884.0L526.3 882.5L526.1 881.0L525.8 879.5L525.6 878.0L525.3 876.5L525.1 875.0L524.8 873.5L524.6 872.0L524.3 870.5L524.0 869.0L523.7 867.5L523.3 866.0L523.0 864.8L522.7 863.5L522.3 862.0L522.0 860.8L521.7 859.5L521.3 858.0L520.9 856.5L520.5 855.3L520.1 854.0L519.6 852.5L519.1 851.0L518.7 849.5L518.2 848.0L517.7 846.5L517.2 845.0L516.8 843.5L516.3 842.0L515.9 840.5L515.5 839.1L515.0 837.5L514.6 836.0L514.2 834.5L513.7 833.0L513.3 831.5L513.5 830.2L515.0 829.5L516.5 828.7L517.7 828.0L519.0 827.3L520.4 826.5L521.5 825.9L523.0 825.2ZM494.3 825.5L495.0 826.5L495.9 827.5L497.0 828.5L498.0 829.3L499.0 830.0L500.5 830.7L502.0 831.3L503.5 831.7L505.0 831.9L506.5 832.0L508.0 831.9L509.2 832.5L509.6 834.0L510.0 835.2L510.4 836.5L510.8 838.0L511.2 839.5L511.7 841.0L512.1 842.5L512.5 843.9L513.0 845.5L513.5 847.0L513.9 848.5L514.4 850.0L514.9 851.5L515.4 853.0L515.8 854.5L516.3 856.0L516.8 857.5L517.2 859.0L517.6 860.5L518.0 862.0L518.3 863.5L518.7 865.0L519.1 866.5L519.5 868.0L519.8 869.5L520.2 871.0L520.4 872.5L520.7 874.0L520.9 875.5L521.2 877.0L521.4 878.5L521.7 880.0L521.9 881.5L522.2 883.0L522.4 884.5L522.7 886.0L522.9 887.5L523.1 889.0L523.4 890.5L523.6 892.0L523.9 893.5L524.1 895.0L524.4 896.5L524.6 898.0L524.8 899.5L524.9 901.0L525.0 902.5L525.1 904.0L525.2 905.5L525.3 907.0L525.3 908.5L525.4 910.0L525.3 911.5L525.2 913.0L525.1 914.5L525.0 915.7L524.9 917.0L524.8 918.5L524.7 920.0L524.6 921.5L524.4 923.0L524.3 924.5L524.1 926.0L523.9 927.5L523.7 929.0L523.5 930.5L523.3 932.0L523.1 933.5L522.9 935.0L522.7 936.5L522.5 937.7L522.3 939.0L522.1 940.5L521.7 942.0L521.4 943.5L521.0 945.0L520.7 946.5L520.3 948.0L520.0 949.5L519.6 951.0L519.3 952.5L519.0 953.8L518.7 955.0L518.3 956.5L517.8 958.0L517.3 959.5L516.8 961.0L516.3 962.5L515.8 964.0L515.3 965.5L514.8 967.0L514.3 968.5L513.7 970.0L513.0 971.5L512.5 972.6L512.0 973.7L511.5 974.8L511.0 975.9L510.5 977.0L510.0 978.1L509.5 979.2L509.0 980.3L508.5 981.4L508.0 982.5L507.2 984.0L506.5 985.0L505.8 986.0L505.1 987.0L504.4 988.0L503.7 989.0L503.0 990.0L502.3 991.0L501.6 992.0L500.0 991.8L498.5 991.9L497.0 992.3L495.7 993.0L494.6 994.0L494.0 992.5L494.0 991.0L494.0 989.5L494.0 988.0L494.0 986.5L494.0 985.0L494.0 983.5L494.0 982.0L494.0 980.5L494.0 979.0L494.0 977.5L494.0 976.0L494.0 974.5L494.0 973.0L494.0 971.5L494.0 970.0L494.0 968.5L494.0 967.0L494.0 965.5L494.0 964.0L494.0 962.5L494.0 961.0L494.0 959.5L494.0 958.0L494.0 956.5L494.0 955.0L494.0 953.5L494.0 952.0L494.0 950.5L494.0 949.0L494.0 947.5L494.0 946.0L494.0 944.5L494.0 943.0L494.0 941.5L494.0 940.0L494.0 938.5L494.0 937.0L494.0 935.5L494.0 934.0L494.0 932.5L494.0 931.0L494.0 929.5L494.0 928.0L494.0 926.5L494.0 925.0L494.0 923.5L494.0 922.0L494.0 920.5L494.0 919.0L494.0 917.5L494.0 916.0L494.0 914.5L494.0 913.0L494.0 911.5L494.0 910.0L494.0 908.5L494.0 907.0L494.0 905.5L494.0 904.0L494.0 902.5L494.0 901.0L494.0 899.5L494.0 898.0L494.0 896.5L494.0 895.0L494.0 893.5L494.0 892.0L494.0 890.5L494.0 889.0L494.0 887.5L494.0 886.0L494.0 884.5L494.0 883.0L494.0 881.5L494.0 880.0L494.0 878.5L494.0 877.0L494.0 875.5L494.0 874.0L494.0 872.5L494.0 871.0L494.0 869.5L494.0 868.0L494.0 866.5L494.0 865.0L494.0 863.5L494.0 862.0L494.0 860.5L494.0 859.0L494.0 857.5L494.0 856.0L494.0 854.5L494.0 853.0L494.0 851.5L494.0 850.0L494.0 848.5L494.0 847.0L494.0 845.5L494.0 844.0L494.0 842.5L494.0 841.0L494.0 839.5L494.0 838.0L494.0 836.5L494.0 835.0L494.0 833.5L494.0 832.0L494.0 830.5L494.0 829.0L494.0 827.5L494.0 826.0ZM494.0 1002.5L494.9 1003.5L496.0 1004.4L497.1 1005.0L498.5 1005.8L499.6 1006.5L501.0 1007.3L502.1 1008.0L503.5 1009.0L504.5 1009.7L505.5 1010.4L506.5 1011.1L507.5 1011.8L508.6 1012.5L510.0 1013.5L509.3 1014.5L508.6 1015.5L507.8 1016.5L507.0 1017.5L506.2 1018.5L505.4 1019.5L504.6 1020.5L503.8 1021.5L503.0 1022.5L502.1 1023.5L500.5 1023.5L499.0 1023.5L497.5 1023.5L496.0 1023.5L494.5 1023.5L494.0 1022.0L494.0 1020.5L494.0 1019.0L494.0 1017.5L494.0 1016.0L494.0 1014.5L494.0 1013.0L494.0 1011.5L494.0 1010.0L494.0 1008.5L494.0 1007.0L494.0 1005.5L494.0 1004.0L494.0 1002.5Z" fill="#78ff00" fill-rule="evenodd"/>
<path d="M494.5 802.0L496.0 802.0L497.5 802.0L496.6 803.0L495.5 803.8L494.5 804.7L494.0 803.5L494.0 802.0ZM494.2 830.0L495.3 831.0L496.5 831.9L498.0 832.9L499.3 833.5L500.5 834.0L502.0 834.4L503.5 834.8L505.0 834.9L506.5 835.0L508.0 834.9L509.2 836.0L509.6 837.5L510.0 838.8L510.3 840.0L510.8 841.5L511.2 843.0L511.6 844.5L512.0 845.7L512.4 847.0L512.9 848.5L513.4 850.0L513.8 851.5L514.3 853.0L514.8 854.5L515.3 856.0L515.7 857.5L516.2 859.0L516.5 860.2L516.8 861.5L517.2 863.0L517.5 864.2L517.8 865.5L518.2 867.0L518.5 868.3L518.8 869.5L519.1 871.0L519.4 872.5L519.6 874.0L519.9 875.5L520.1 877.0L520.4 878.5L520.6 880.0L520.9 881.5L521.1 883.0L521.4 884.5L521.6 886.0L521.9 887.5L522.1 889.0L522.4 890.5L522.6 892.0L522.9 893.5L523.1 895.0L523.4 896.5L523.6 898.0L523.8 899.5L523.9 901.0L524.0 902.5L524.1 904.0L524.2 905.5L524.2 907.0L524.3 908.5L524.4 910.0L524.3 911.5L524.2 913.0L524.1 914.5L524.0 916.0L523.9 917.5L523.8 919.0L523.7 920.5L523.6 922.0L523.4 923.5L523.2 925.0L523.0 926.3L522.8 927.5L522.6 929.0L522.4 930.5L522.2 932.0L522.0 933.5L521.8 935.0L521.6 936.5L521.4 938.0L521.2 939.5L520.9 941.0L520.6 942.5L520.2 944.0L519.9 945.5L519.5 947.0L519.2 948.5L518.8 950.0L518.5 951.5L518.2 953.0L517.8 954.5L517.4 956.0L516.9 957.5L516.4 959.0L515.9 960.5L515.4 962.0L514.9 963.5L514.4 965.0L513.9 966.5L513.4 968.0L512.8 969.5L512.1 971.0L511.5 972.4L511.0 973.5L510.5 974.6L510.0 975.7L509.5 976.8L509.0 977.9L508.5 979.0L508.0 980.1L507.5 981.2L507.0 982.3L506.3 983.5L505.6 984.5L505.0 985.5L504.3 986.5L503.6 987.5L502.9 988.5L502.2 989.5L501.2 990.5L499.5 990.4L498.0 990.5L496.5 991.0L495.0 991.8L494.0 992.6L494.0 991.0L494.0 989.5L494.0 988.0L494.0 986.5L494.0 985.0L494.0 983.5L494.0 982.0L494.0 980.5L494.0 979.0L494.0 977.5L494.0 976.0L494.0 974.5L494.0 973.0L494.0 971.5L494.0 970.0L494.0 968.5L494.0 967.0L494.0 965.5L494.0 964.0L494.0 962.5L494.0 961.0L494.0 959.5L494.0 958.0L494.0 956.5L494.0 955.0L494.0 953.5L494.0 952.0L494.0 950.5L494.0 949.0L494.0 947.5L494.0 946.0L494.0 944.5L494.0 943.0L494.0 941.5L494.0 940.0L494.0 938.5L494.0 937.0L494.0 935.5L494.0 934.0L494.0 932.5L494.0 931.0L494.0 929.5L494.0 928.0L494.0 926.5L494.0 925.0L494.0 923.5L494.0 922.0L494.0 920.5L494.0 919.0L494.0 917.5L494.0 916.0L494.0 914.5L494.0 913.0L494.0 911.5L494.0 910.0L494.0 908.5L494.0 907.0L494.0 905.5L494.0 904.0L494.0 902.5L494.0 901.0L494.0 899.5L494.0 898.0L494.0 896.5L494.0 895.0L494.0 893.5L494.0 892.0L494.0 890.5L494.0 889.0L494.0 887.5L494.0 886.0L494.0 884.5L494.0 883.0L494.0 881.5L494.0 880.0L494.0 878.5L494.0 877.0L494.0 875.5L494.0 874.0L494.0 872.5L494.0 871.0L494.0 869.5L494.0 868.0L494.0 866.5L494.0 865.0L494.0 863.5L494.0 862.0L494.0 860.5L494.0 859.0L494.0 857.5L494.0 856.0L494.0 854.5L494.0 853.0L494.0 851.5L494.0 850.0L494.0 848.5L494.0 847.0L494.0 845.5L494.0 844.0L494.0 842.5L494.0 841.0L494.0 839.5L494.0 838.0L494.0 836.5L494.0 835.0L494.0 833.5L494.0 832.0L494.0 830.5ZM520.5 829.9L521.2 831.0L522.0 832.5L522.5 833.6L523.2 835.0L523.9 836.5L524.5 838.0L525.0 839.1L525.5 840.3L526.0 841.5L526.5 842.7L527.0 844.0L527.5 845.2L528.0 846.5L528.5 847.9L529.0 849.2L529.4 850.5L530.0 852.0L530.5 853.5L531.0 855.0L531.4 856.5L531.9 858.0L532.3 859.5L532.8 861.0L533.2 862.5L533.5 863.7L533.8 865.0L534.2 866.5L534.5 867.7L534.8 869.0L535.2 870.5L535.5 872.0L535.8 873.5L536.1 875.0L536.4 876.5L536.6 878.0L536.9 879.5L537.1 881.0L537.4 882.5L537.6 884.0L537.8 885.5L538.0 887.0L538.1 888.5L538.3 890.0L538.4 891.5L538.6 893.0L538.7 894.5L538.8 896.0L538.9 897.5L539.0 899.0L539.1 900.5L539.1 902.0L539.2 903.5L539.2 905.0L539.2 906.5L539.2 908.0L539.2 909.5L539.2 911.0L539.1 912.5L539.1 914.0L539.0 915.5L539.0 917.0L538.9 918.5L538.8 920.0L538.7 921.5L538.5 923.0L538.4 924.5L538.3 926.0L538.1 927.5L537.9 929.0L537.7 930.5L537.5 932.0L537.3 933.5L537.1 935.0L536.8 936.5L536.5 938.0L536.3 939.5L536.0 940.9L535.7 942.5L535.4 944.0L535.0 945.5L534.7 947.0L534.4 948.5L534.0 949.9L533.6 951.5L533.2 953.0L532.8 954.5L532.4 956.0L532.0 957.2L531.6 958.5L531.1 960.0L530.7 961.5L530.2 963.0L529.7 964.5L529.1 966.0L528.6 967.5L528.0 969.0L527.5 970.4L527.0 971.5L526.5 972.9L526.0 974.0L525.5 975.3L525.0 976.4L524.5 977.6L524.0 978.7L523.5 979.8L523.0 981.0L522.3 982.5L521.5 984.0L520.8 985.5L520.0 987.0L519.2 988.5L518.5 989.9L517.9 991.0L517.1 992.5L516.2 994.0L515.5 995.2L514.7 996.5L514.0 997.7L512.6 997.0L511.5 996.2L510.5 995.5L509.0 994.6L508.0 994.0L507.5 992.7L508.3 991.5L509.0 990.5L509.7 989.5L510.4 988.5L511.1 987.5L511.8 986.5L512.5 985.2L513.0 984.1L513.5 983.0L514.0 981.9L514.5 980.8L515.0 979.7L515.5 978.6L516.0 977.5L516.5 976.4L517.0 975.3L517.5 974.2L518.0 973.1L518.5 972.0L519.0 970.7L519.4 969.5L519.9 968.0L520.4 966.5L520.9 965.0L521.4 963.5L521.9 962.0L522.4 960.5L522.9 959.0L523.4 957.5L523.8 956.0L524.2 954.5L524.5 953.1L524.9 951.5L525.2 950.0L525.5 948.7L525.8 947.5L526.1 946.0L526.5 944.5L526.8 943.0L527.2 941.5L527.4 940.0L527.6 938.5L527.8 937.0L528.0 935.8L528.2 934.5L528.4 933.0L528.6 931.5L528.8 930.0L529.0 928.5L529.2 927.0L529.4 925.5L529.6 924.0L529.8 922.5L529.9 921.0L530.0 919.5L530.1 918.0L530.2 916.5L530.3 915.0L530.4 913.5L530.5 912.0L530.6 910.5L530.6 909.0L530.5 907.7L530.4 906.5L530.4 905.0L530.3 903.5L530.2 902.0L530.1 900.5L530.0 899.0L529.8 897.5L529.6 896.0L529.3 894.5L529.1 893.0L528.8 891.5L528.6 890.0L528.3 888.5L528.1 887.0L527.9 885.5L527.6 884.0L527.4 882.5L527.1 881.0L526.9 879.5L526.6 878.0L526.4 876.5L526.1 875.0L525.9 873.5L525.6 872.0L525.4 870.5L525.1 869.0L524.7 867.5L524.3 866.0L524.0 864.7L523.7 863.5L523.3 862.0L523.0 860.6L522.6 859.0L522.2 857.5L521.8 856.0L521.3 854.5L520.8 853.0L520.4 851.5L519.9 850.0L519.5 848.8L519.1 847.5L518.6 846.0L518.1 844.5L517.7 843.0L517.2 841.5L516.8 840.0L516.4 838.5L516.0 837.2L515.6 836.0L515.2 834.5L514.9 833.0L516.0 832.4L517.5 831.6L519.0 830.7L520.3 830.0ZM494.5 1005.0L495.5 1005.7L496.8 1006.5L498.0 1007.2L499.4 1008.0L500.5 1008.7L501.8 1009.5L503.0 1010.3L504.0 1011.0L504.0 1012.4L503.2 1013.5L502.4 1014.5L501.6 1015.5L500.8 1016.5L500.0 1017.5L499.2 1018.5L498.3 1019.5L497.5 1020.5L496.6 1021.5L495.7 1022.5L494.8 1023.5L494.0 1022.5L494.0 1021.0L494.0 1019.5L494.0 1018.0L494.0 1016.5L494.0 1015.0L494.0 1013.5L494.0 1012.0L494.0 1010.5L494.0 1009.0L494.0 1007.5L494.0 1006.0L494.0 1004.6Z" fill="#ffe100" fill-rule="evenodd"/>
<path d="M494.2 834.0L495.5 834.9L496.6 835.5L498.0 836.3L499.5 836.9L501.0 837.3L502.5 837.7L504.0 837.9L505.5 838.0L507.0 838.0L508.5 837.9L509.0 839.4L509.5 841.0L509.9 842.5L510.3 844.0L510.7 845.5L511.2 847.0L511.7 848.5L512.2 850.0L512.6 851.5L513.1 853.0L513.6 854.5L514.0 855.7L514.4 857.0L514.9 858.5L515.3 860.0L515.6 861.5L516.0 862.8L516.2 864.0L516.6 865.5L517.0 866.8L517.4 868.5L517.7 870.0L518.1 871.5L518.3 873.0L518.6 874.5L518.8 876.0L519.1 877.5L519.3 879.0L519.6 880.5L519.8 882.0L520.1 883.5L520.3 885.0L520.6 886.5L520.8 888.0L521.1 889.5L521.3 891.0L521.6 892.5L521.8 894.0L522.1 895.5L522.3 897.0L522.6 898.5L522.7 900.0L522.8 901.5L522.9 903.0L523.0 904.4L523.1 906.0L523.1 907.5L523.2 909.0L523.2 910.5L523.1 912.0L523.0 913.5L522.9 915.0L522.8 916.5L522.7 918.0L522.6 919.5L522.5 921.0L522.4 922.5L522.1 924.0L522.0 925.5L521.7 927.0L521.6 928.5L521.4 930.0L521.1 931.5L521.0 933.0L520.7 934.5L520.6 936.0L520.4 937.5L520.2 939.0L519.9 940.5L519.5 942.0L519.2 943.5L518.8 945.0L518.5 946.5L518.1 948.0L517.8 949.5L517.5 950.9L517.1 952.5L516.7 954.0L516.3 955.5L515.8 957.0L515.3 958.5L514.8 960.0L514.3 961.5L513.8 963.0L513.3 964.5L512.8 966.0L512.3 967.5L511.8 969.0L511.1 970.5L510.5 971.9L510.0 973.0L509.3 974.5L508.6 976.0L508.0 977.4L507.5 978.5L506.8 980.0L506.1 981.5L505.5 982.7L504.6 984.0L504.0 985.0L503.2 986.0L502.5 987.1L501.5 988.5L500.0 988.6L498.5 988.6L497.0 988.9L495.5 989.5L494.0 990.2L494.0 989.0L494.0 987.5L494.0 986.0L494.0 984.5L494.0 983.0L494.0 981.5L494.0 980.0L494.0 978.5L494.0 977.0L494.0 975.5L494.0 974.0L494.0 972.5L494.0 971.0L494.0 969.5L494.0 968.0L494.0 966.5L494.0 965.0L494.0 963.5L494.0 962.0L494.0 960.5L494.0 959.0L494.0 957.5L494.0 956.0L494.0 954.5L494.0 953.0L494.0 951.5L494.0 950.0L494.0 948.5L494.0 947.0L494.0 945.5L494.0 944.0L494.0 942.5L494.0 941.0L494.0 939.5L494.0 938.0L494.0 936.5L494.0 935.0L494.0 933.5L494.0 932.0L494.0 930.5L494.0 929.0L494.0 927.5L494.0 926.0L494.0 924.5L494.0 923.0L494.0 921.5L494.0 920.0L494.0 918.5L494.0 917.0L494.0 915.5L494.0 914.0L494.0 912.5L494.0 911.0L494.0 909.5L494.0 908.0L494.0 906.5L494.0 905.0L494.0 903.5L494.0 902.0L494.0 900.5L494.0 899.0L494.0 897.5L494.0 896.0L494.0 894.5L494.0 893.0L494.0 891.5L494.0 890.0L494.0 888.5L494.0 887.0L494.0 885.5L494.0 884.0L494.0 882.5L494.0 881.0L494.0 879.5L494.0 878.0L494.0 876.5L494.0 875.0L494.0 873.5L494.0 872.0L494.0 870.5L494.0 869.0L494.0 867.5L494.0 866.0L494.0 864.5L494.0 863.0L494.0 861.5L494.0 860.0L494.0 858.5L494.0 857.0L494.0 855.5L494.0 854.0L494.0 852.5L494.0 851.0L494.0 849.5L494.0 848.0L494.0 846.5L494.0 845.0L494.0 843.5L494.0 842.0L494.0 840.5L494.0 839.0L494.0 837.5L494.0 836.0L494.0 834.5ZM517.5 835.0L518.2 836.0L518.9 837.5L519.5 839.0L520.3 840.5L520.9 842.0L521.5 843.5L522.0 844.8L522.5 846.0L523.0 847.5L523.5 848.6L524.0 850.0L524.5 851.5L525.0 852.9L525.5 854.3L525.9 855.5L526.4 857.0L526.9 858.5L527.4 860.0L527.9 861.5L528.3 863.0L528.5 864.3L528.9 865.5L529.3 867.0L529.6 868.5L530.0 870.0L530.4 871.5L530.7 873.0L531.0 874.5L531.3 876.0L531.5 877.5L531.9 879.0L532.0 880.5L532.4 882.0L532.5 883.5L532.8 885.0L532.9 886.5L533.1 888.0L533.4 889.5L533.5 891.0L533.5 892.4L533.8 894.0L533.9 895.5L533.9 897.0L534.0 898.5L534.1 900.0L534.2 901.5L534.3 903.0L534.3 904.5L534.3 906.0L534.4 907.5L534.4 909.0L534.3 910.5L534.3 912.0L534.2 913.5L534.1 915.0L534.0 916.5L534.0 918.0L533.9 919.5L533.8 921.0L533.7 922.5L533.5 924.0L533.4 925.5L533.2 927.0L533.0 928.5L532.9 930.0L532.6 931.5L532.4 933.0L532.2 934.5L531.9 936.0L531.7 937.5L531.4 939.0L531.0 940.5L530.8 942.0L530.5 943.5L530.1 945.0L529.8 946.5L529.4 948.0L529.0 949.4L528.6 951.0L528.3 952.5L527.9 954.0L527.4 955.5L526.9 957.0L526.5 958.2L526.1 959.5L525.7 961.0L525.1 962.5L524.6 964.0L524.0 965.5L523.5 966.9L523.0 968.3L522.5 969.5L522.0 970.8L521.5 972.0L521.0 973.2L520.5 974.4L520.0 975.5L519.4 977.0L518.7 978.5L518.0 979.9L517.5 981.0L516.8 982.5L516.0 983.9L515.3 985.5L514.5 986.9L513.9 988.0L513.0 989.5L512.3 991.0L511.5 992.3L510.5 993.4L509.0 992.5L509.7 991.5L510.4 990.5L511.1 989.5L511.8 988.5L512.5 987.5L513.4 986.0L514.0 984.5L514.7 983.0L515.4 981.5L516.0 980.2L516.5 979.0L517.3 977.5L517.9 976.0L518.5 974.7L519.0 973.5L519.8 972.0L520.3 970.5L520.8 969.0L521.3 967.5L521.8 966.0L522.3 964.5L522.8 963.0L523.3 961.5L523.8 960.0L524.3 958.5L524.8 957.0L525.1 955.5L525.4 954.0L525.8 952.5L526.2 951.0L526.5 949.5L526.9 948.0L527.2 946.5L527.5 945.0L527.9 943.5L528.2 942.0L528.5 940.5L528.7 939.0L528.9 937.5L529.1 936.0L529.3 934.5L529.5 933.0L529.7 931.5L529.9 930.0L530.1 928.5L530.3 927.0L530.5 925.5L530.7 924.0L530.9 922.5L531.0 921.0L531.1 919.5L531.2 918.0L531.3 916.5L531.4 915.0L531.5 913.5L531.6 912.0L531.7 910.5L531.7 909.0L531.6 907.5L531.5 906.0L531.5 904.5L531.4 903.0L531.3 901.5L531.2 900.0L531.1 898.5L530.9 897.0L530.7 895.5L530.4 894.0L530.2 892.5L529.9 891.0L529.7 889.5L529.4 888.0L529.2 886.5L528.9 885.0L528.7 883.5L528.4 882.0L528.2 880.5L527.9 879.0L527.7 877.5L527.4 876.0L527.2 874.5L526.9 873.0L526.7 871.5L526.4 870.0L526.1 868.5L525.8 867.0L525.4 865.5L525.0 864.1L524.6 862.5L524.3 861.0L523.9 859.5L523.5 858.1L523.1 856.5L522.7 855.0L522.2 853.5L521.7 852.0L521.2 850.5L520.8 849.0L520.3 847.5L519.8 846.0L519.3 844.5L518.9 843.0L518.4 841.5L518.0 840.2L517.5 838.5L517.1 837.0L516.9 835.5ZM494.1 1007.0L495.5 1007.9L496.6 1008.5L498.0 1009.4L499.1 1010.0L498.5 1011.4L497.7 1012.5L496.9 1013.5L496.0 1014.5L495.3 1015.5L494.4 1016.5L494.0 1015.0L494.0 1013.5L494.0 1012.0L494.0 1010.5L494.0 1009.0L494.0 1007.5Z" fill="#ff3200" fill-rule="evenodd"/>
</g>
<path d="M515.5 800.0L519.1 806.0L522.7 812.0L526.3 818.1L529.9 822.9L533.6 828.9L537.2 836.1L540.8 845.8L543.2 855.4L545.6 865.1L548.0 874.7L549.2 884.3L549.8 896.4L550.4 909.6" fill="none" stroke="#35d8ff" stroke-width="1.2" stroke-linejoin="round" clip-path="url(#wc)"/>
<path d="M533.6 828.9L537.2 828.3L542.0 833.7L544.4 839.8L546.8 848.2L548.6 856.6L549.8 867.5" fill="none" stroke="#35d8ff" stroke-width="1.2" stroke-linejoin="round" clip-path="url(#wc)"/>
<path d="M550.2 913.6L551.4 922.0L550.2 931.7L547.8 941.3L545.4 949.8L543.0 958.2L543.0 965.4L539.4 972.7L535.8 981.1L532.2 988.3L528.6 996.7L529.8 1001.6" fill="none" stroke="#35d8ff" stroke-width="1.2" stroke-linejoin="round" clip-path="url(#wc)"/>
<path d="M533.4 967.8L531.0 975.1L527.3 982.3L523.7 989.5L520.1 996.7" fill="none" stroke="#35d8ff" stroke-width="1.2" stroke-linejoin="round" clip-path="url(#wc)"/>
<path d="M539.6 800.0L541.4 807.2L542.0 814.5L543.2 820.5L548.0 824.1L552.8 830.1L557.7 839.8L560.7 849.4L562.5 855.4L560.1 861.4L557.7 855.4L555.2 848.2L552.8 839.8L551.6 842.2L554.0 850.6L556.4 860.2L558.9 869.9" fill="none" stroke="#0f5aff" stroke-width="1.3" stroke-linejoin="round" clip-path="url(#wc)"/>
<path d="M555.1 942.5L558.7 934.1L563.5 926.9L568.3 920.8L571.9 918.4L570.7 925.7L568.3 935.3L565.9 943.7L558.7 948.6L557.5 944.9Z" fill="none" stroke="#0f5aff" stroke-width="1.3" stroke-linejoin="round" clip-path="url(#wc)"/>
<path d="M543.0 965.4L540.6 973.9L538.2 982.3L540.6 991.9L541.8 993.1L538.2 1000.4L533.4 1005.2" fill="none" stroke="#0f5aff" stroke-width="1.3" stroke-linejoin="round" clip-path="url(#wc)"/>
<path d="M546.8 808.4L551.6 815.7L555.2 824.1L558.9 834.9L562.5 844.6L566.1 845.8L564.3 842.2L567.3 848.2L568.5 856.6L567.3 862.7L563.7 865.1L566.1 871.1L567.3 878.3L566.1 884.3" fill="none" stroke="#4600b4" stroke-width="1.3" stroke-linejoin="round" clip-path="url(#wc)"/>
<path d="M560.1 891.6L561.9 886.7L562.5 894.0L561.3 900.0" fill="none" stroke="#4600b4" stroke-width="1.3" stroke-linejoin="round" clip-path="url(#wc)"/>
<path d="M567.3 894.0L570.9 886.7L573.9 881.9L573.3 889.2L572.1 896.4" fill="none" stroke="#4600b4" stroke-width="1.3" stroke-linejoin="round" clip-path="url(#wc)"/>
<path d="M550.2 994.3L555.1 987.1L559.9 977.5L563.5 969.0L562.3 975.1L559.9 984.7L556.9 993.1L552.7 999.2L551.4 1002.8L553.9 1001.6L559.9 994.3L564.7 988.3L566.5 987.1L564.7 993.1L561.1 999.2L555.1 1005.2" fill="none" stroke="#4600b4" stroke-width="1.3" stroke-linejoin="round" clip-path="url(#wc)"/>
<path d="M562.3 910.0L563.5 914.8L561.7 919.6L562.3 912.4" fill="none" stroke="#4600b4" stroke-width="1.3" stroke-linejoin="round" clip-path="url(#wc)"/>
<path d="M502.3 810.8L507.1 815.7L514.3 830.1L521.6 845.8" fill="none" stroke="#ff3200" stroke-width="1.6" stroke-linejoin="round" clip-path="url(#wc)"/>
<path d="M504.7 808.4L509.5 814.5L516.7 827.7L521.6 837.3" fill="none" stroke="#ffe100" stroke-width="1.6" stroke-linejoin="round" clip-path="url(#wc)"/>
<path d="M509.5 806.0L514.3 812.0L521.6 824.1L526.4 833.7" fill="none" stroke="#78ff00" stroke-width="1.6" stroke-linejoin="round" clip-path="url(#wc)"/>
<path d="M516.7 803.6L521.6 809.6L530.0 824.1" fill="none" stroke="#14f5c0" stroke-width="1.6" stroke-linejoin="round" clip-path="url(#wc)"/>
<path d="M490.0 1010.0L499.6 999.2L509.3 988.3L511.4 987.1" fill="none" stroke="#ff3200" stroke-width="1.6" stroke-linejoin="round" clip-path="url(#wc)"/>
<path d="M502.0 1018.4L505.7 1012.4L510.5 1005.2L516.5 996.7" fill="none" stroke="#ffe100" stroke-width="1.6" stroke-linejoin="round" clip-path="url(#wc)"/>
<path d="M514.1 1018.4L521.3 1008.8L529.8 1001.6L532.2 994.3" fill="none" stroke="#78ff00" stroke-width="1.6" stroke-linejoin="round" clip-path="url(#wc)"/>
<path d="M521.3 1018.4L529.8 1006.4L535.8 994.3L541.8 982.3" fill="none" stroke="#14f5c0" stroke-width="1.6" stroke-linejoin="round" clip-path="url(#wc)"/>
<path d="M511.3 831.7h7.2M514.9 828.1v7.2M512.3 829.1l5.2 5.2M512.3 834.3l5.2 -5.2M518.0 846.8h7.2M521.6 843.2v7.2M519.0 844.2l5.2 5.2M519.0 849.4l5.2 -5.2M523.3 862.4h7.2M526.9 858.8v7.2M524.3 859.8l5.2 5.2M524.3 865.0l5.2 -5.2M527.0 878.5h7.2M530.6 874.9v7.2M528.0 875.9l5.2 5.2M528.0 881.1l5.2 -5.2M529.1 894.8h7.2M532.7 891.2v7.2M530.1 892.2l5.2 5.2M530.1 897.4l5.2 -5.2M529.6 911.3h7.2M533.2 907.7v7.2M530.6 908.7l5.2 5.2M530.6 913.9l5.2 -5.2M528.4 927.7h7.2M532.0 924.1v7.2M529.4 925.1l5.2 5.2M529.4 930.3l5.2 -5.2M525.6 944.0h7.2M529.2 940.4v7.2M526.6 941.4l5.2 5.2M526.6 946.6l5.2 -5.2M521.3 959.9h7.2M524.9 956.3v7.2M522.3 957.3l5.2 5.2M522.3 962.5l5.2 -5.2M515.4 975.3h7.2M519.0 971.7v7.2M516.4 972.7l5.2 5.2M516.4 977.9l5.2 -5.2M507.9 990.0h7.2M511.5 986.4v7.2M508.9 987.4l5.2 5.2M508.9 992.6l5.2 -5.2" stroke="#000" stroke-width="0.8" fill="none"/>
<path d="M518.8 828.3h6.6M522.1 825.0v6.6M513.8 993.1h6.6M517.1 989.8v6.6M524.1 825.5h6.6M527.4 822.2v6.6M519.1 996.1h6.6M522.4 992.8v6.6M529.5 822.8h6.6M532.8 819.5v6.6M524.3 999.1h6.6M527.6 995.8v6.6M534.8 820.0h6.6M538.1 816.8v6.6M529.6 1002.1h6.6M532.9 998.8v6.6M540.2 817.3h6.6M543.5 814.0v6.6M534.9 1005.1h6.6M538.2 1001.8v6.6M545.5 814.5h6.6M548.8 811.2v6.6M540.2 1008.1h6.6M543.5 1004.8v6.6M550.9 811.8h6.6M554.2 808.5v6.6M545.4 1011.1h6.6M548.7 1007.8v6.6M556.2 809.0h6.6M559.5 805.8v6.6M550.7 1014.1h6.6M554.0 1010.8v6.6M561.6 806.3h6.6M564.9 803.0v6.6M556.0 1017.1h6.6M559.3 1013.8v6.6M566.9 803.5h6.6M570.2 800.2v6.6M561.2 1020.1h6.6M564.5 1016.8v6.6M572.2 800.8h6.6M575.5 797.5v6.6M566.5 1023.0h6.6M569.8 1019.8v6.6M577.6 798.0h6.6M580.9 794.8v6.6M571.8 1026.0h6.6M575.1 1022.7v6.6M582.9 795.3h6.6M586.2 792.0v6.6M577.0 1029.0h6.6M580.3 1025.7v6.6M588.3 792.5h6.6M591.6 789.2v6.6M582.3 1032.0h6.6M585.6 1028.7v6.6M593.6 789.8h6.6M596.9 786.5v6.6M587.6 1035.0h6.6M590.9 1031.7v6.6M599.0 787.0h6.6M602.3 783.8v6.6M592.9 1038.0h6.6M596.1 1034.7v6.6M604.3 784.3h6.6M607.6 781.0v6.6M598.1 1041.0h6.6M601.4 1037.7v6.6M609.7 781.5h6.6M613.0 778.2v6.6M603.4 1044.0h6.6M606.7 1040.7v6.6M615.0 778.8h6.6M618.3 775.5v6.6M608.7 1047.0h6.6M612.0 1043.7v6.6M620.4 776.0h6.6M623.7 772.8v6.6M613.9 1050.0h6.6M617.2 1046.7v6.6M625.7 773.3h6.6M629.0 770.0v6.6M619.2 1053.0h6.6M622.5 1049.7v6.6M636.3 800.6h6.6M639.6 797.3v6.6M646.1 828.4h6.6M649.4 825.1v6.6M652.8 856.2h6.6M656.1 852.9v6.6M655.9 884.6h6.6M659.2 881.3v6.6M656.7 913.7h6.6M660.0 910.4v6.6M654.9 942.9h6.6M658.2 939.6v6.6M650.1 971.2h6.6M653.4 967.9v6.6M642.4 999.3h6.6M645.7 996.0v6.6M632.4 1026.4h6.6M635.7 1023.1v6.6" stroke="#b52a2a" stroke-opacity="0.85" stroke-width="0.9" fill="none"/>
</g>
<path d="M70.3 1211.4v-6.9M70.3 604v6.9M63.3 610.8h6.9M668.7 610.8h-6.9M103.2 1211.4v-12.7M103.2 604v12.7M63.3 643.8h12.7M668.7 643.8h-12.7M136.1 1211.4v-6.9M136.1 604v6.9M63.3 676.8h6.9M668.7 676.8h-6.9M168.9 1211.4v-6.9M168.9 604v6.9M63.3 709.8h6.9M668.7 709.8h-6.9M201.8 1211.4v-6.9M201.8 604v6.9M63.3 742.8h6.9M668.7 742.8h-6.9M234.7 1211.4v-12.7M234.7 604v12.7M63.3 775.8h12.7M668.7 775.8h-12.7M267.6 1211.4v-6.9M267.6 604v6.9M63.3 808.8h6.9M668.7 808.8h-6.9M300.4 1211.4v-6.9M300.4 604v6.9M63.3 841.8h6.9M668.7 841.8h-6.9M333.3 1211.4v-6.9M333.3 604v6.9M63.3 874.8h6.9M668.7 874.8h-6.9M366.2 1211.4v-12.7M366.2 604v12.7M63.3 907.8h12.7M668.7 907.8h-12.7M399.1 1211.4v-6.9M399.1 604v6.9M63.3 940.8h6.9M668.7 940.8h-6.9M431.9 1211.4v-6.9M431.9 604v6.9M63.3 973.8h6.9M668.7 973.8h-6.9M464.8 1211.4v-6.9M464.8 604v6.9M63.3 1006.8h6.9M668.7 1006.8h-6.9M497.7 1211.4v-12.7M497.7 604v12.7M63.3 1039.8h12.7M668.7 1039.8h-12.7M530.6 1211.4v-6.9M530.6 604v6.9M63.3 1072.8h6.9M668.7 1072.8h-6.9M563.5 1211.4v-6.9M563.5 604v6.9M63.3 1105.8h6.9M668.7 1105.8h-6.9M596.3 1211.4v-6.9M596.3 604v6.9M63.3 1138.8h6.9M668.7 1138.8h-6.9M629.2 1211.4v-12.7M629.2 604v12.7M63.3 1171.8h12.7M668.7 1171.8h-12.7M662.1 1211.4v-6.9M662.1 604v6.9M63.3 1204.8h6.9M668.7 1204.8h-6.9" stroke="#808080" stroke-width="1" fill="none"/>
<rect x="63.3" y="604.0" width="605.4" height="607.4" fill="none" stroke="#808080" stroke-width="1.1"/>
<text x="103.2" y="1243.5" font-size="23.6" fill="#808080" text-anchor="middle">4</text>
<text x="43.6" y="652.3" font-size="23.6" fill="#808080" text-anchor="middle">4</text>
<text x="234.7" y="1243.5" font-size="23.6" fill="#808080" text-anchor="middle">2</text>
<text x="43.6" y="784.3" font-size="23.6" fill="#808080" text-anchor="middle">2</text>
<text x="366.2" y="1243.5" font-size="23.6" fill="#808080" text-anchor="middle">0</text>
<text x="43.6" y="916.3" font-size="23.6" fill="#808080" text-anchor="middle">0</text>
<text x="497.7" y="1243.5" font-size="23.6" fill="#808080" text-anchor="middle">2</text>
<text x="43.6" y="1048.3" font-size="23.6" fill="#808080" text-anchor="middle">2</text>
<text x="629.2" y="1243.5" font-size="23.6" fill="#808080" text-anchor="middle">4</text>
<text x="43.6" y="1180.3" font-size="23.6" fill="#808080" text-anchor="middle">4</text>
<text x="212.3" y="1271" font-size="24.8" fill="#808080" textLength="45.5" lengthAdjust="spacingAndGlyphs">Log</text>
<text x="259.5" y="1275.8" font-size="16" fill="#808080" textLength="20" lengthAdjust="spacingAndGlyphs">10</text>
<text x="289" y="1271" font-size="24.8" fill="#808080" textLength="62.9" lengthAdjust="spacingAndGlyphs">Para.</text>
<text x="365" y="1271" font-size="24.8" fill="#808080" textLength="87.6" lengthAdjust="spacingAndGlyphs">Energy</text>
<text x="464" y="1271" font-size="24.8" fill="#808080" textLength="55.6" lengthAdjust="spacingAndGlyphs">(eV)</text>
<text x="19.8" y="1061.2" font-size="26.8" fill="#000" textLength="46.5" lengthAdjust="spacingAndGlyphs" transform="rotate(-90 19.8 1061.2)">Log</text>
<text x="25.4" y="1015.2" font-size="17.3" fill="#000" textLength="19.5" lengthAdjust="spacingAndGlyphs" transform="rotate(-90 25.4 1015.2)">10</text>
<text x="19.8" y="985.7" font-size="26.8" fill="#000" textLength="63.6" lengthAdjust="spacingAndGlyphs" transform="rotate(-90 19.8 985.7)">Perp.</text>
<text x="19.8" y="909.6" font-size="26.8" fill="#000" textLength="88.6" lengthAdjust="spacingAndGlyphs" transform="rotate(-90 19.8 909.6)">Energy</text>
<text x="19.8" y="809.9" font-size="26.8" fill="#000" textLength="54.6" lengthAdjust="spacingAndGlyphs" transform="rotate(-90 19.8 809.9)">(eV)</text>
<text x="825" y="1048.4" font-size="26.8" fill="#000" textLength="46.5" lengthAdjust="spacingAndGlyphs" transform="rotate(-90 825 1048.4)">Log</text>
<text x="829.9" y="1002.4" font-size="17.3" fill="#000" textLength="19.5" lengthAdjust="spacingAndGlyphs" transform="rotate(-90 829.9 1002.4)">10</text>
<text x="825" y="982.9" font-size="26.8" fill="#000" textLength="98" lengthAdjust="spacingAndGlyphs" transform="rotate(-90 825 982.9)">(eV/cm</text>
<text x="813.8" y="888.2" font-size="18.5" fill="#000" textLength="11.5" lengthAdjust="spacingAndGlyphs" transform="rotate(-90 813.8 888.2)">2</text>
<text x="825" y="874" font-size="26.8" fill="#000" textLength="116" lengthAdjust="spacingAndGlyphs" transform="rotate(-90 825 874)">-s-sr-eV)</text>
<path d="M298.5 1184.3H112" stroke="#808080" stroke-width="1" fill="none"/>
<path d="M108.5 1184.3L121 1180.2L118.3 1184.3L121 1188.4Z" fill="#808080"/>
<text x="149.5" y="1172.6" font-size="24.6" fill="#808080" textLength="106.5" lengthAdjust="spacingAndGlyphs">Upgoing</text>
<text x="473" y="1172.6" font-size="24.6" fill="#808080" textLength="145.5" lengthAdjust="spacingAndGlyphs">Downgoing</text>
<path d="M433.5 1175.1H614.2V1194.1H433.5Z" fill="#000" fill-opacity="0.5"/>
<path d="M652.5 1184.6L568.2 1160.7L592.1 1184.6L568.2 1208.4Z" fill="#000" fill-opacity="0.5"/>
<path d="M600.1 1178.5L612 1174.5L620.6 1184.5L612 1194.4L600.7 1191.1L602 1184.5Z" fill="#000" fill-opacity="0.55"/>
<path d="M603 1181L611.5 1177L615 1184.5L612 1192.5L606 1190.5L603.5 1186Z" fill="#000" fill-opacity="0.6"/>
</g>
</svg>
</body></html>
